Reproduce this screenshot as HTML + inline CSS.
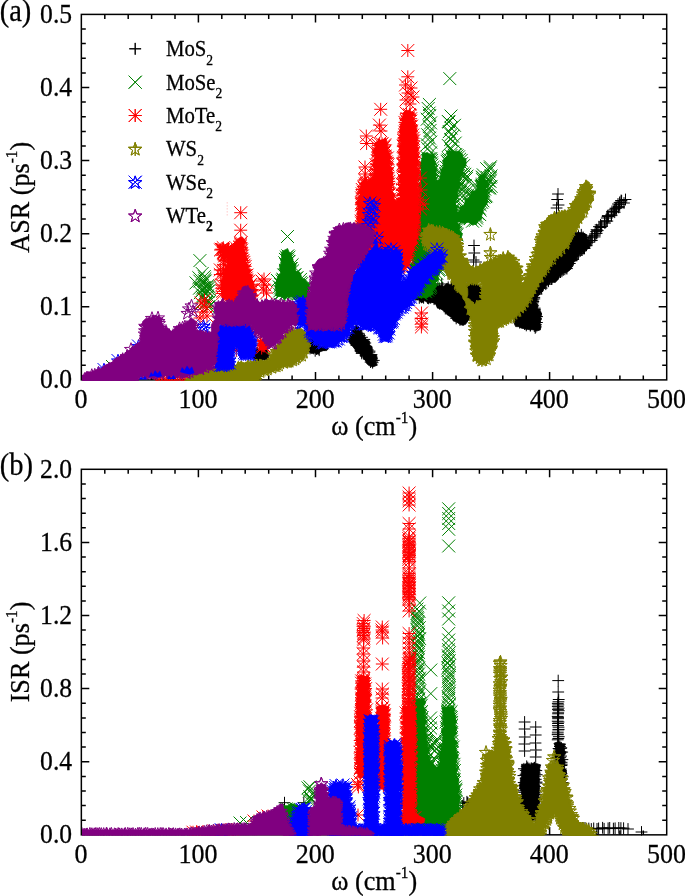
<!DOCTYPE html>
<html lang="en"><head><meta charset="utf-8"><title>ASR and ISR versus phonon frequency</title>
<style>
html,body{margin:0;padding:0;background:#fff}
svg{display:block}
text{font-family:"Liberation Serif",serif;fill:#000;stroke:#000;stroke-width:.3px}
.t{font-size:27.7px}
.l{font-size:22.2px}
.s{font-size:14.5px}
.u{font-size:16.2px}
path.mk,path.mg,path.mr,path.mo,path.mb,path.mp{fill:none;stroke:none}
.mk{marker-start:url(#mk);marker-mid:url(#mk);marker-end:url(#mk)}
.mg{marker-start:url(#mg);marker-mid:url(#mg);marker-end:url(#mg)}
.mr{marker-start:url(#mr);marker-mid:url(#mr);marker-end:url(#mr)}
.mo{marker-start:url(#mo);marker-mid:url(#mo);marker-end:url(#mo)}
.mb{marker-start:url(#mb);marker-mid:url(#mb);marker-end:url(#mb)}
.mp{marker-start:url(#mp);marker-mid:url(#mp);marker-end:url(#mp)}
</style></head><body>
<svg width="685" height="896" viewBox="0 0 685 896">
<defs>
<marker id="mk" markerUnits="userSpaceOnUse" markerWidth="20" markerHeight="20" viewBox="-10 -10 20 20" refX="0" refY="0" orient="0" overflow="visible"><path d="M-5.9 0H5.9M0 -5.9V5.9" fill="none" stroke="#000000" stroke-width="1"/></marker>
<marker id="mg" markerUnits="userSpaceOnUse" markerWidth="20" markerHeight="20" viewBox="-10 -10 20 20" refX="0" refY="0" orient="0" overflow="visible"><path d="M-6.45 -6.45L6.45 6.45M-6.45 6.45L6.45 -6.45" fill="none" stroke="#008000" stroke-width="1"/></marker>
<marker id="mr" markerUnits="userSpaceOnUse" markerWidth="20" markerHeight="20" viewBox="-10 -10 20 20" refX="0" refY="0" orient="0" overflow="visible"><path d="M-6.45 0H6.45M0 -6.45V6.45M-6.45 -6.45L6.45 6.45M-6.45 6.45L6.45 -6.45" fill="none" stroke="#ff0000" stroke-width="1"/></marker>
<marker id="mo" markerUnits="userSpaceOnUse" markerWidth="20" markerHeight="20" viewBox="-10 -10 20 20" refX="0" refY="0" orient="0" overflow="visible"><path d="M0.00 -6.30L1.62 -1.63L6.56 -1.53L2.62 1.45L4.06 6.18L0.00 3.36L-4.06 6.18L-2.62 1.45L-6.56 -1.53L-1.62 -1.63ZM0 -6.4V7M-6.5 -1.5H6.5" fill="none" stroke="#808000" stroke-width="1"/></marker>
<marker id="mb" markerUnits="userSpaceOnUse" markerWidth="20" markerHeight="20" viewBox="-10 -10 20 20" refX="0" refY="0" orient="0" overflow="visible"><path d="M0.00 -6.30L1.62 -1.63L6.56 -1.53L2.62 1.45L4.06 6.18L0.00 3.36L-4.06 6.18L-2.62 1.45L-6.56 -1.53L-1.62 -1.63ZM-6.45 -6.45L6.45 6.45M-6.45 6.45L6.45 -6.45" fill="none" stroke="#0000ff" stroke-width="1"/></marker>
<marker id="mp" markerUnits="userSpaceOnUse" markerWidth="20" markerHeight="20" viewBox="-10 -10 20 20" refX="0" refY="0" orient="0" overflow="visible"><path d="M0.00 -6.30L1.62 -1.63L6.56 -1.53L2.62 1.45L4.06 6.18L0.00 3.36L-4.06 6.18L-2.62 1.45L-6.56 -1.53L-1.62 -1.63Z" fill="none" stroke="#800080" stroke-width="1"/></marker>
<clipPath id="ca"><rect x="82.1" y="13.6" width="585.4" height="367.1"/></clipPath>
<clipPath id="cb"><rect x="82.1" y="468.2" width="585.4" height="367.4"/></clipPath>
</defs>
<rect width="685" height="896" fill="#fff"/>
<rect x="81.35" y="14.4" width="585.35" height="365.5" fill="none" stroke="#000" stroke-width="1.5"/>
<path d="M104.8 379.9v-4.5M104.8 14.4v4.5M128.2 379.9v-4.5M128.2 14.4v4.5M151.6 379.9v-4.5M151.6 14.4v4.5M175 379.9v-4.5M175 14.4v4.5M198.4 379.9v-8M198.4 14.4v8M221.8 379.9v-4.5M221.8 14.4v4.5M245.2 379.9v-4.5M245.2 14.4v4.5M268.7 379.9v-4.5M268.7 14.4v4.5M292.1 379.9v-4.5M292.1 14.4v4.5M315.5 379.9v-8M315.5 14.4v8M338.9 379.9v-4.5M338.9 14.4v4.5M362.3 379.9v-4.5M362.3 14.4v4.5M385.7 379.9v-4.5M385.7 14.4v4.5M409.1 379.9v-4.5M409.1 14.4v4.5M432.6 379.9v-8M432.6 14.4v8M456 379.9v-4.5M456 14.4v4.5M479.4 379.9v-4.5M479.4 14.4v4.5M502.8 379.9v-4.5M502.8 14.4v4.5M526.2 379.9v-4.5M526.2 14.4v4.5M549.6 379.9v-8M549.6 14.4v8M573 379.9v-4.5M573 14.4v4.5M596.5 379.9v-4.5M596.5 14.4v4.5M619.9 379.9v-4.5M619.9 14.4v4.5M643.3 379.9v-4.5M643.3 14.4v4.5M81.3 365.3h4.5M666.7 365.3h-4.5M81.3 350.7h4.5M666.7 350.7h-4.5M81.3 336h4.5M666.7 336h-4.5M81.3 321.4h4.5M666.7 321.4h-4.5M81.3 306.8h8M666.7 306.8h-8M81.3 292.2h4.5M666.7 292.2h-4.5M81.3 277.6h4.5M666.7 277.6h-4.5M81.3 262.9h4.5M666.7 262.9h-4.5M81.3 248.3h4.5M666.7 248.3h-4.5M81.3 233.7h8M666.7 233.7h-8M81.3 219.1h4.5M666.7 219.1h-4.5M81.3 204.5h4.5M666.7 204.5h-4.5M81.3 189.8h4.5M666.7 189.8h-4.5M81.3 175.2h4.5M666.7 175.2h-4.5M81.3 160.6h8M666.7 160.6h-8M81.3 146h4.5M666.7 146h-4.5M81.3 131.4h4.5M666.7 131.4h-4.5M81.3 116.7h4.5M666.7 116.7h-4.5M81.3 102.1h4.5M666.7 102.1h-4.5M81.3 87.5h8M666.7 87.5h-8M81.3 72.9h4.5M666.7 72.9h-4.5M81.3 58.3h4.5M666.7 58.3h-4.5M81.3 43.6h4.5M666.7 43.6h-4.5M81.3 29h4.5M666.7 29h-4.5" stroke="#000" stroke-width="1.5" fill="none"/>
<g clip-path="url(#ca)"><path fill="#000000" stroke="#000000" stroke-width="0.8" stroke-linejoin="miter" fill-rule="evenodd" d="M252.4 352.4L251.9 355.6L254.6 358.8L257.6 360.9L260.9 359.8L264.5 359.7L268.7 359.5L268.2 354.4L266.8 349.3L263.5 350.3L260.4 348.8L256.3 349.2Z"/>
<path class="mk" d="M256.8 353.5L264.4 355.2L261.7 352.7L259.4 352.7L264.1 353.7L257.3 352.9L262.1 356.1L256.5 357.6L261.6 356.3L258.8 357.9"/>
<path fill="#000000" stroke="#000000" stroke-width="0.8" stroke-linejoin="miter" fill-rule="evenodd" d="M300.7 342.5L303.7 344.9L301.8 348.6L305.2 351.6L308.4 351L311.1 353.4L314.3 352.8L318 354.1L320.6 351.5L323.6 350.6L326.7 350.6L328.4 348.5L326.8 345.4L323.7 346.6L320.6 346.3L317.5 346.3L315.4 345.6L313.7 343.5L312.9 340.5L311 338.4L307.7 338.9L304 338.5Z"/>
<path class="mk" d="M313.8 347.4L307.6 341.3L306.8 347.5L312.5 347.6L318.8 349L319.2 350.2L310 348.5L310.7 342.3L316.5 349L312.4 344.6L305.4 345.3L317.6 348.2L313.7 348.4L305.1 346.2L307 341L312.1 341.6L315.2 350.8L305 348.3"/>
<path fill="#000000" stroke="#000000" stroke-width="0.8" stroke-linejoin="miter" fill-rule="evenodd" d="M348.7 339.1L349.2 342.4L351.2 344.7L353.2 347L355 349.4L356.1 352.3L359.7 353.5L362.2 355.2L363.2 358.5L365.5 360.6L366.7 363.6L369 365.6L373 366.8L377.4 365.2L375.5 361.9L377.4 358.8L376.5 355L372.5 353.7L372.4 350.4L372.1 347.1L369.6 345L369.7 341.6L366.9 339.6L364.2 337.6L363 334.9L361.6 332.2L360.8 328.9L358.1 326.3L354.1 326.5L352.8 330.4L350.8 332.9L350.3 335.9Z"/>
<path class="mk" d="M371.5 354.6L369.4 352.2L365.6 355.2L365.3 343L351.4 339.7L355.7 342.3L367.9 350L368.8 358.9L362 337.3L369.5 351.1L365.8 346.1L366.9 355.5L354.8 342.2L360 348.2L356.5 330.6L353.6 332.5L355.7 343.3L370.6 362.1L356.4 345.2L372.6 362.7L361.5 351.6L358.6 335.2L361.7 353.4L364.3 339.4L366.4 346.6L360.4 350.9L358.5 333.3L373.8 360.4L363.7 341.1L353.2 335.5L372.2 361.1L359.8 335.7L371.3 358L369.4 358.9L353.4 337.2L355.9 330"/>
<path fill="#000000" stroke="#000000" stroke-width="0.8" stroke-linejoin="miter" fill-rule="evenodd" d="M412.6 298.1L415.8 299.9L418.8 300L421.5 302.7L424.8 300.7L427.6 302.7L430.6 302.8L433.7 302.4L436 304.5L437.3 307.9L440.3 308.8L443 310.2L445.2 312.3L446.9 314.5L449.4 316.2L452.5 317.3L453.2 321L456.5 321.8L459.4 324L462.4 325.3L465.6 324.3L467.8 320.9L469.7 318.6L472.5 316.9L471.7 312.8L473.9 310.6L475 307.7L479 306.8L480.2 304L482.3 300.3L479.9 297.3L481.5 294.3L482 291.3L481 288.3L479.5 285.5L476.9 285.2L473.9 283.4L470.9 283.1L467.9 285.5L464.9 284.5L461.9 285L458.9 283.1L455.9 283.1L452.9 285.2L449.9 284.4L446.9 283.4L443.9 286.2L440.9 285.4L437.9 286L434.9 283.8L432 286.3L428.1 285.7L427 289.5L423.8 290.1L421 291.6L419 293.9L417.3 296.6Z"/>
<path class="mk" d="M419.3 297.9L451.1 311.9L477.5 297.9L447.5 308.3L473.5 304.4L477.1 301.6L467.1 287.7L475.7 290.7L444 306.4L464.1 317.8L423.6 297.8L470.7 309.2L437.9 288.9L466 288.7L456.2 318.4L471.5 287.4L460 320L436.7 300L463.5 287L423 296.9L459.3 287L462 318.7L451.5 287.7L442.7 304.4L477.3 292.5L473.6 306.8L477.9 295.1L428.6 298.4L454.6 287.8L430.8 290L452 288.3L439.6 289L437.7 302.4L470 310.4L468.7 314.4L439.3 289.9L430.4 297.7L445.3 308.6L476.4 288.1L476 296.9L467 316.3L448.2 287.3L421.4 297.2L427.7 291.5L463.3 319.7L444.5 305.8L457.9 317.2L476.3 303.6L469.4 311.3L434.3 288.2L451.6 311.8L421 296.4L473.1 288.6L456.2 316.6L468.9 288.6L446.3 289.8L431.7 288.3L434.1 299.2L427.7 291.2L427.6 298L425.3 293.4L452.6 313.9L456.6 288.7L442.7 287.9L460.9 288.8L439.5 303.7"/>
<path class="mk" d="M441.7 284L474 245.5L474.3 253L473.6 260L476 262L558 194L557.2 199.5L558.5 205L556.6 208"/>
<path fill="#000000" stroke="#000000" stroke-width="0.8" stroke-linejoin="miter" fill-rule="evenodd" d="M514.9 312.4L513.6 315.7L513 318.9L513.6 321.9L515.6 326.6L518.9 326.7L521.7 328.3L524.7 328.7L527.7 329.5L530.7 329.6L534 329.9L536.8 331L540.5 329.8L540.6 326.3L540.2 323.2L540.7 320.2L540.8 317.1L541.7 314L540.2 310.4L536.9 308.5L538.1 304.6L535.7 302.3L533.1 299.9L530.2 301L526.8 299.4L523.8 300L519.8 301L518.3 304.1L516.7 306.8L516.4 310.2Z"/>
<path class="mk" d="M520 311.1L537 316.6L526.8 303.3L536.9 322.5L535.8 319.2L526.2 324L534.7 309.5L532.9 302.8L520.7 321.7L534.7 308.2L524.6 324.1L521.7 304.8L536.5 316.5L519.7 307.5L525.4 304.7L535.8 326.9L530.6 303.2L535.9 313.8L526.3 325.4L518.2 316.9L518.3 313.1L519.3 321.1L519.7 322.7L536 324.8L530.4 325.4L518.8 312L535.2 327.9L532.1 306.4L534.6 309.9L530.3 325.5L518.1 316.4L523.2 305.1L534.3 326.1"/>
<path fill="#000000" stroke="#000000" stroke-width="0.8" stroke-linejoin="miter" fill-rule="evenodd" d="M518.8 309L520.7 311.4L523.7 313.3L522.7 317.2L525.2 319.3L527.8 321.4L529.1 324.1L528.9 328.4L534.5 327.8L537 326.2L538.3 322.3L539.9 319.4L537.6 316.9L536.3 314.1L537.2 310.7L536.6 307.8L533.6 305.4L534.9 302.7L537.2 300.4L537.1 297L539.5 294.8L540.9 292.1L543 291.4L544.1 287.7L546.2 285.5L549.2 284.5L551.1 281.9L555.3 282.5L557.4 280.1L559.3 277.6L560.7 274.5L563.1 272.7L566.6 272.2L569.3 270.7L571.4 267.9L572.8 265.2L573.2 261.9L576.8 260.5L576.9 257L579.3 255.1L581.3 252.9L583.6 250.9L586.2 249.2L589.1 247.8L590.4 243.8L589.2 241L586.8 238.7L586.3 234.6L583.7 233L580.1 232.6L576.5 232.5L573.6 233.6L571 235.1L569.5 238.8L567 240.6L566.6 244.3L564.5 246.4L562.8 249L559.1 249.8L556.7 251.8L554.8 254.1L553.8 257.3L552.4 260.1L549.8 262L547.5 264L546.1 266.7L544.8 269.6L543.1 272.1L541.5 274.7L539.9 277.3L537.6 279.4L534.4 281L534.8 284.8L531.7 286.5L530.9 289.5L528.8 291.8L528.2 295L525.2 296.7L523.7 299.3L522.1 301.9L520.3 304.4Z"/>
<path class="mk" d="M546.8 272.1L531.9 323.4L532.3 294.3L543.6 275.5L583 248.5L548.5 280.7L563.5 248.9L536.8 288.9L544.6 273.1L530.1 322.4L585.1 243L533.2 305.9L540.3 287.1L573.3 239.4L558.7 258L533.3 301.5L546.8 269.7L567.1 247.6L573.2 259.4L533.3 294.1L534.3 298.9L580.3 250.9L564.8 269.3L539.2 283.3L572.8 239.7L534.1 312.4L533 290.3L560.5 272.1L584.4 248L581.3 234.8L534.3 297.4L572 242.4L542.5 278.3L573.8 256.8L523.9 308.6L567.9 265L533.6 322L578.3 253.7L557.9 273.9L539.2 279.7L536.2 287.2L584 238.9L548.3 281.3L529.4 299.8L581.6 249.4L533.1 300L583.7 240.2L576.1 238.5L537 291.4L573.1 258.1L568.9 242.4L571.3 260.7L525.7 310.3L586.7 242.6L556.7 275L525.5 302.8L574.8 238.8L541.6 288.2L583.1 237.4L552.8 277L547.8 268.9L522.9 305.5L582.3 248.6L567.2 266.4L530.3 319.1L563.1 250.2L544.5 283.1L523.8 306.4L526 312.3L545.8 284.2L576.9 255.3L561.9 271.3L557.7 273.9L551.7 279L554.6 261.8L565.3 248.3L533.4 312.5L536.1 318.8L585.3 245.5L551.8 278.9L562 252.1L534.8 321L533.3 291.2L556.2 258.6L528.4 317.1L534.3 315.4L553.2 263.4L536.4 294.1L541.2 287.1L534.9 318.8L569.8 263.5L540.6 279.2L556.2 260.2L578.5 236.1L534.3 293.7L566.9 268.6L567.7 245L537.8 284.4L534.7 288.5L543.4 275.7L530.5 323.4L526.7 302.7L531.4 296.7L560.4 253.5L558.3 255.4L550.2 265.7L531.9 309L527.5 316L529 300.5L525.6 314.4L549.9 265.6L532.2 307.3L563.3 269.9L531.1 303.9"/>
<path class="mk" d="M583.5 247.6L584.5 248.4L584.1 247.3L584.8 243.7L586.5 245.3L588.3 242.2L590.6 240.6L589.8 240.6L591.8 240.4L592.2 237.8L591.9 236L594.7 236.9L595.1 233.9L594.8 235.2L596.2 231.6L596.6 233.4L596.6 229.7L597.7 230.6L600.6 227.5L598.9 226.7L600.4 226.7L600.6 224.9L601.6 226.3L604.5 221.9L606.2 220.8L604.9 223.1L607.3 221.1L606.8 218L608.4 216.6L607.6 216.6L607.8 215.6L611.5 215.6L611.3 214.3L612 211.4L613.4 211.3L614.7 212.2L614.4 209.8L616.5 208.2L615.4 208.3L618.7 207.4L618.9 206.6L619.6 204.7L619.6 202.4L621.1 200.5L621.2 202.1"/>
<path class="mk" d="M621.6 200.8L624 203L618 204L625.5 199.5L573 240L568 252L567 262L566 268L575 238"/>
<path class="mg" d="M199.9 260.6L287.5 236.5L277.5 280.5L449.8 78.6"/>
<path class="mg" d="M207.8 295.7L199.5 288.2L203.2 295.4L202.4 297.3L206.8 301L202 290.6L204.8 278.8L209.1 306.9L204.3 276.6L205.3 292.5L207.9 291.4L206.5 302.8L204.4 287.8L207.3 287.1L196 282.9L202.2 273.5L202.5 288.1L207.6 285.7L199.8 281.1L208.3 306.8L204.5 280.9L209.4 287.1L198.8 277.7L209 302.1L206.4 289.9L205.1 281.1L206.5 302.5L209.7 289.9L200.3 292.7L201.4 303.6"/>
<path fill="#008000" stroke="#008000" stroke-width="0.8" stroke-linejoin="miter" fill-rule="evenodd" d="M281.4 254.5L281.6 257.5L281 260.5L281.4 263.6L280.4 266.5L279.6 269.5L281.1 272.4L278.7 274.7L277.4 277.4L276.5 280.3L275.9 283.3L275.1 286.7L276 289.6L276.3 292.6L275.5 295.7L278.9 296.4L281.9 296.7L284.9 299.2L287.9 296.8L290.9 296.5L293.9 296.9L296.9 299L300 296.7L303 297.4L306 299.4L310.7 298.7L308.3 293.9L308.9 290.8L309.9 287.7L309 283.7L307 281.4L304.9 279.2L301.7 278L300.9 274.7L299.5 272L295.7 271.1L295.2 268.1L296.2 264.6L293.1 262.4L293 259.3L291.6 256.5L290.8 253.6L288.7 251.3L287.6 248.5L286.1 249.4L282.9 251Z"/>
<path class="mg" d="M287.2 258.5L286 271.7L290.1 294.1L289 261.5L285.4 270.3L300.5 279.4L285.6 272.7L291.3 268.5L298.5 293.9L279.7 294.4L296.8 277.9L283.8 274.9L287.8 255.8L287.7 260.1L305 292.8L302.6 294L282.1 281L301.4 293.8L280.4 284.2L294.1 275.2L304.6 286.8L283.2 280L301.6 283.6L285.8 264.7L292.6 270.8L288.7 293.9L280.5 288L279.3 286.9L300.5 282.3L281.9 292.9L304.2 289.4L293.8 292.3L286.4 293L289 257.1L305.8 287.8L283.1 279.3L296.6 277.9L285.5 293.9L293.9 292.7L286.6 266.2L295 274.8L292.1 264.8L288.7 261.4L286.4 257.1L285.4 259.4L284.8 262.8L279.7 291L290.4 268.6L305.1 292.7"/>
<path fill="#008000" stroke="#008000" stroke-width="0.8" stroke-linejoin="miter" fill-rule="evenodd" d="M437.8 180.7L435.2 180.8L435.4 177.7L436.4 174.7L435.9 171.7L436.7 168.6L434.8 165.7L435.8 162.6L433.9 159.7L434.3 156.7L433.4 154.2L430.4 154.7L427.4 152.4L422.3 154L422.2 157.2L421.6 160.1L420.7 163L420 166L421 169.3L421.4 172.4L419.9 175.3L421.4 178.4L421.2 181.4L418.4 184.3L420 187.4L419.2 190.4L418.2 193.4L420.8 196.5L418.4 199.4L419 202.3L418.6 205.3L419 208.5L417.5 211.2L416.1 214L415.7 217L414.2 219.8L416.1 223.3L415.6 226.2L412.6 228.7L411.4 231.6L411.5 234.6L411.2 237.7L412.5 240.9L412.5 243.9L412.3 247L409.8 250L412.1 253L411.9 256L411.7 259L412.8 262L409.8 265L410.1 268.1L412 271.1L412.6 274.1L411.8 277.1L410.6 280.1L411.5 283.1L412 286.2L409.9 289.2L410.6 292.2L410.4 295.2L414.6 298L417.6 296.9L420.6 297.9L423.7 297.6L426.7 297.9L429.9 296L433.2 294L432.4 290.4L435.2 288.3L436.9 285.8L435.6 281.9L438.9 280.1L438.1 276.4L439.6 273.7L440.8 271L444.2 269.2L444.6 266.1L446.9 263.8L445.7 260L447.2 257.3L449.1 254.9L450.9 252.4L452.5 249.8L452.4 246.4L454.7 244.5L456.3 241.9L459.3 240.5L461 238L462.5 233.5L459.7 231.2L459.3 228.1L459.8 224.9L456.7 222.6L459 222L461.3 221.9L464.1 223.3L467.4 221.8L470.2 223.2L472.9 224.9L476.7 223.8L478.4 221L481.5 219.3L481.5 216.1L482.7 213.3L482.8 210.2L484 207.4L486.4 204.7L487.7 201.8L487.2 198.7L487 195.4L486.3 192.4L485.5 189.5L485.1 186.5L487.6 183.3L485 180.4L484.9 177.4L483.1 175.1L480.9 174.7L478.5 177L479.3 180.6L478.4 183.5L477.2 186.3L477.1 189.4L474.6 190.7L471.6 191.3L470.1 195L468.8 197.9L465.4 199L464.9 202.5L463.7 205.3L460.2 206.7L459.7 209.9L458.4 212.5L456.6 212.1L457 210.4L457 207.4L455.6 204.3L455.6 201.3L456.9 198.3L458.4 195.8L456.9 192.3L457.7 189.4L460 186.9L459.6 183.7L459.3 180.5L460.1 177.6L462 175L462.9 172.1L463.3 169.1L465.3 166.5L466.1 163.6L465.9 159.3L463 157.5L462.5 154.3L460.2 151.7L456.7 151.2L453.7 151.7L450.6 150.8L446.6 150.9L447.3 156L444.4 158.3L442.7 161.1L443.6 164.4L443.4 167.4L440.7 169.9L441.4 173.2L439.9 175.9L439.8 179Z"/>
<path class="mg" d="M458.1 168.7L432.7 181.4L414.5 249L461.1 214.6L452.4 195.3L476.5 218L431.9 165L452.3 201.6L417 228.7L415 238.9L416.6 286.8L459.6 159.2L415.7 262.1L461.6 163.6L414.4 246.2L414.7 257.1L420.3 292.8L446.5 171.4L461 216.1L432 182.4L416.6 232.3L450.9 155.6L423.1 179L469.6 202.5L481.7 202.4L448.5 166.2L466.5 219.1L427.4 157.8L414.8 240.6L456.6 179.4L427.7 290.1L455.4 228.9L444.4 253L419.2 223.9L478.2 213.6L481.7 186.4L423.7 182.1L481.1 198.4L415 280.5L434.1 277.5L456.8 176.8L452.6 211L416.4 274.3L455.5 189L423.9 178.3L421 218.9L451.3 242.1L415.5 278.9L476.7 216.2L445.4 254.6L455 221.5L414.3 290.8L422.2 207.7L453.8 238.7L438.4 270.2L424.4 185L432.9 167.5L448.4 162.7L479.7 214.6L455.7 216.9L432.8 170.4L423.8 200.1L436.7 273.3L425.5 291.3L431.5 162.9L450.5 244.8L439.9 267.2L419.8 221.4L479.3 208.1L452.9 193.8L428.4 159.2L459.4 164.7L424.1 187.2L458.6 156.8L443.8 181.3L430.3 287.3L442.6 185.4L435.4 185.5L457.9 171.8L430 158.5L453.4 225.1L416.1 252.6L441.3 263.4L454.3 222.1L469.7 202.9L424.6 169.9L455.8 232.1L457.1 155.8L479.1 191.8L479.5 188.8L473 197.7L441.9 259.3L466 204.9L417.1 232.2L455.5 184.7L432.3 279.6L471.7 201L420.2 222L451.3 206.2L452.7 193L443.1 260.1L455.7 154.6L422.2 201.2L448.9 158.8L422.8 196.2L414.5 266.9L418.7 291.8L440.1 185.9L455.2 182.4L451.2 242.4L414.8 257.4L472.8 198.1L479.2 190.8L415.2 271.6L475.5 220.3L456.5 233.9L415.2 238.1L461.2 160.4L465.6 217.4L426.2 169.6L459.6 214.4L482.8 191.2L419.2 226.7L421.4 208.5L447.6 247.4L455 227.9L423.5 191.4L416 258.6L436.4 276.1L445.3 177L481.4 195.7L430.4 284.2L421 293.6L459.1 215.8L424.8 167L423.6 183.7L421.6 216.5L445.8 174.8L482.3 185.3L423.9 191.5L451.8 196.8L437.1 186.2L425.3 291.7L470.4 218.7L448 160.1L431.8 175.6L453.7 213.9L453 209.4L472.5 221.2L415.6 292.3L481.7 191.9L443 183.4L427.5 160.8L421.1 213.3L447.9 250L481.3 187.1L454.3 155.3L430.6 285.9L458.8 217.3L421.4 213.5L414.9 269.3L480.1 210L469.3 218.3L433 177.1L440.6 264.6L453.1 202.3L424.4 193L424.6 172.2L445.8 250.7L482.1 186.3L431.5 160.4L416.1 282.9L423.6 174.6L463.6 208.6L455.7 215.2L456.9 234.9L463.5 211.7L482.7 184.1L454.1 219.9L416.3 250.5L415.8 263.1L447.1 161.3L457.2 215.8L422 203.9L427.5 164.4L423.6 202.6L455.8 187.4L482.9 200.8L430.7 159L433.4 278.2L414.5 277.8L415.1 243.7L476.2 196.4L480.1 204.7L482.9 196L458 175.7L458.9 167.8L461 216.5L416.2 235.4L464.2 207L433.4 178.6L456.7 179.2L445.7 173.4L434.6 184.5L416.4 287.9L453.3 205.1L430.7 172.7L445.1 178.1L415.9 270.8L443.4 256.8L446.4 167.3L439.2 269.4L454.8 237.7L477 194.8L453 212.3L429.3 288.5"/>
<path class="mg" d="M428.2 108.5L429.1 113.1L429.7 115.6L427.2 119.2L430.6 122.9L429.5 126.7L430.1 130.4L427.7 134.8L429.5 138.1L430.7 142.1L427.2 144.7L427.8 148.6L430.9 152.7"/>
<path class="mg" d="M429.4 104.5L451 116L449 122"/>
<path class="mg" d="M448.3 121.5L454.5 125.3L451.1 128L449.3 131.6L451.1 134.6L452.9 136.3L450.6 139.5L455.2 143.1L448.3 145.5L450.9 148.9L452.6 151.8"/>
<path class="mg" d="M465.7 177.4L460.3 191.9L461.9 174.8L464.8 174.3L465.6 185.7L458.9 187.1L468.2 190.2L466.4 178.6L462 197.2L467 176.1L468 194.8L464.9 190.3L462.9 186.7L463.6 165.6L462.7 176.9L463.1 173.5"/>
<path class="mg" d="M482.7 177.9L490 181.4L485.1 185.3L483.5 190.7L483.9 197.3L486.7 168.7L482.1 185.7L488.9 180.6L490 168.3L485.6 196.6L483.2 174.8L483.1 189.9L482.5 179.6L482.3 186.5L489.9 188L482.3 191L491.1 186.4L490.1 177.6L486.2 195.8L482.4 177.1L488.6 188.1L484.7 189.1L487.2 177.4L485.7 186.3"/>
<path class="mg" d="M490.4 166.8L489 171L491 176"/>
<path class="mr" d="M156.8 381.5L159.1 381.9L162.2 382L164.2 381.6L167.4 381.3L169.4 381.2L172 381.8L174.5 381.8L177.4 381.5L180.1 381.6L182.7 381.6L184.9 381.7L187.4 381.7L190.5 381.8L192.6 381.8L195.8 381.5L197.7 381.5L200.9 381.1L202.5 381.5"/>
<path fill="#ff0000" stroke="#ff0000" stroke-width="0.8" stroke-linejoin="miter" fill-rule="evenodd" d="M227.6 262.7L227 265.7L224.9 268.1L225.9 271.6L222.7 273.8L224 277.3L221.9 280.3L221.7 283.3L222 286.3L221.8 289.3L223.2 292.3L223.4 295.3L222.2 298.3L225.7 299.4L228.7 301.2L231.7 301.9L234.7 301.8L237.7 300L240.7 299.5L243.7 301.9L246.7 302.3L249.7 299.9L252.7 301.6L255.1 299.4L256.4 296.6L255.7 293.7L256.3 290.5L254 287.8L254.1 284.6L253.6 281.7L250.8 279.4L252.3 275.7L249.5 273.5L250.7 270L248 267.7L247.9 264.6L245.6 262.1L247.8 258.8L245.9 256L246 253L244.1 250.2L243.7 247.2L244.3 244.1L245.3 241L242.4 237L239.3 237.7L236.2 240.3L234.6 242.9L233.5 245.7L234.2 249.1L232.8 251.9L230.6 254L231.3 257.7L227.7 259.3Z"/>
<path class="mr" d="M238.1 249.9L240.7 253.1L241.7 250L226.7 281.2L227 281.5L234.9 296.5L250.5 293.8L228.9 268.9L249.7 285.9L242.3 256L248.5 281.6L252 289.5L245 270L233.8 256.3L226.6 287.7L240.6 245L244.1 265.1L251.7 295.4L245.4 296.1L236.7 254.6L240.1 246.8L226.8 295.6L241.1 242.6L233.6 261.3L239.7 247.5L243.9 262.4L228.7 282.5L249.6 295.3L228.5 294.7L228.5 273.3L227.1 278.8L236.1 251.1L250.6 284.3L228.6 274.7L251.5 290.8L241.8 258.6L234 259.1L241.7 253.5L239.2 297.1L233.8 296L246.4 277.9L236.9 295.7L226.6 288.7L243.9 271.8L230 270.2L236.8 248.5L247 275.1L230 265.7L227.1 291.5L245.9 275.4L229.5 268L230.4 295.5L248.5 295.7L240.6 243.7L241.1 296.1L232.5 261.9L247.4 297.5L245.2 266.4L227.7 296.5L243 260.5L246.5 279.9"/>
<path class="mr" d="M223.3 247.7L227.6 250.8L225.3 252L229 254.6L224.6 251.6L228.4 251.1L224.7 255.9L224.4 251.9L225.1 255.2L226.7 254.4L226.8 252.5L227.7 254.7L221.2 249.2L227.5 252.6L227.1 251.8L224.2 252.8L228.7 248.5L223.3 252.2L222.7 249.6L223.1 249.6L228.6 252.6L225.1 251.2L220.5 250L228.7 255L228.6 249.6L225.4 250.7L224.6 251.9L225.8 250.7L228 249L229.2 252.6"/>
<path class="mr" d="M220.3 269.9L223.2 273.5L223.4 270.3L221.6 288.3L221.7 285L224.8 280.5L222.7 293.5L222.7 291.4L220.3 274.5L223.8 259.9L225.2 260.7L223.6 264.8"/>
<path class="mr" d="M240.7 212.7L240.7 230.2L262 281L265 285L263.5 290L266.5 293L264 279L201 303L206 307L203 312L207 316L200 318L204.5 300L236.3 350.5"/>
<path fill="#ff0000" stroke="#ff0000" stroke-width="0.8" stroke-linejoin="miter" fill-rule="evenodd" d="M259.6 340.5L258.4 343.6L259.2 346.7L259.7 350.3L262.9 349.7L266 349.7L269.3 347.8L269.4 344.7L267.3 341.7L265.9 338.1L262.2 339.6Z"/>
<path class="mr" d="M263.9 345.8L264.4 343.4L260.5 341.3L262.7 345.4L264 345.9L263.5 340.9L261.7 348.1"/>
<path fill="#ff0000" stroke="#ff0000" stroke-width="0.8" stroke-linejoin="miter" fill-rule="evenodd" d="M357.9 200.1L356.7 203.1L357.8 206.1L358.7 209.1L357.3 212.1L358.3 215.1L356.9 218.1L358.1 221.2L358.9 224.2L358 227.2L358.8 230.2L357 233.2L359.3 236.2L357 239.2L359.6 242.2L359.8 245.2L359.6 248.2L358.3 251.2L357.5 254.2L357.7 257.2L359 260.2L358.2 263.2L359.6 266.2L356.9 269.3L359.8 272.7L362.8 271.4L365.8 272.1L368.8 272.2L371.9 273.5L374.9 273.2L377.9 272.6L380.8 270.5L383.8 270.5L386.9 272.4L389.8 270L392.9 272.7L395.8 270.8L398.8 269.5L401.9 271.3L404.8 269.4L406.7 267.7L409.5 265.5L409.7 262.4L410.3 259.4L411.9 256.8L411.4 253.4L414 251.2L413.2 247.7L415.6 245.2L417 242.4L416.1 239.1L418.1 236.5L417.3 233.2L416.9 230.1L417.5 227.1L418 224.1L419.4 221.1L417.9 218.1L419.3 215.1L417.5 212L419.2 209L417.8 206L418.5 203L418.5 200L417.6 197L419.2 194L419.3 191L416.8 188L418.8 185L417.2 182L417.1 179L418.2 175.9L419.2 172.9L419.2 169.9L416.6 167L418.9 163.9L417.6 160.9L417.4 157.9L418.6 154.9L417.3 151.9L418.2 148.8L416.9 145.9L416.9 142.9L417.2 139.8L417.3 136.7L416.3 133.8L416.5 130.7L416.4 127.7L415.7 124.8L413.3 122.1L414.1 118.9L412.4 116.1L414.8 112.8L411 111.6L408 110.2L404.9 111.1L403 113.2L403.1 116.2L401.4 119.1L402.7 122.2L400.5 125L400.6 128L399.6 131L400.4 134.1L400.5 137.1L399.5 140.1L401.4 143.2L398.8 146.2L400.3 149.2L399.1 152.2L400.2 155.2L400.8 158.2L400.5 161.2L398.4 164.2L398.9 167.2L400 170.2L401.2 173.3L398.1 176.2L399.9 179.2L400.1 182.3L400.4 185.3L398.9 188.2L400.3 191.3L399.2 194.3L400.6 197.3L397.7 198.8L397.2 201.6L394.2 199.9L393.1 199.2L394 196.5L393.3 193.5L391.6 190.6L391.6 187.6L393.2 184.5L392.4 181.5L392.9 178.5L392.6 175.5L392.3 172.5L391.8 169.5L389.6 166.6L389.4 163.6L389.9 160.6L390.4 157.4L389.8 154.5L388.4 151.7L387.4 148.8L387.4 145.7L387.2 142.7L386.1 138.3L382.8 139.6L379.8 140.3L377.4 141.1L374.5 143.5L375.7 146.9L373.9 149.5L372.9 152.7L375.3 155.9L374.1 158.8L374.1 161.8L372 164.7L374 167.8L374.1 170.8L373.8 173.8L373.1 176.8L372.5 179.7L369.6 180.4L366.6 180.2L363.5 180.3L361 182.2L360.6 185.1L360.6 188.2L358.5 191L360.3 194.2L358.6 197Z"/>
<path class="mr" d="M410.8 135L398.1 205.1L413.4 147.4L412.6 149L406.4 128.3L404.6 172.5L412.9 238.9L413 183.7L403.2 266L376.3 169.1L373.3 268.9L402.7 198.4L414.8 204.3L383.1 267.5L362.2 193.8L387.5 187.6L379.6 143.3L413.4 176L411.9 145.4L389.2 199.6L377.8 267.3L403.7 140.6L362.8 229.5L390.9 267.2L412.9 154.6L403.9 159.2L375.9 173.3L415.1 191.6L363.3 212.8L386.8 179.1L403.3 171.6L387.3 192.9L388.8 183.9L376.1 164.8L411.1 237.6L395.5 266.5L361.7 252.1L413.2 192.5L364.7 268.2L413.7 140.8L378.5 145.4L414.6 207.4L404.6 200.2L414.2 225.3L405 135.4L404.9 149.5L404.5 162L378.3 164.7L413.8 182.9L404.4 176.2L362.5 258.4L388.6 189.5L362.8 224.9L399.5 266.1L365.4 184.1L405.1 170.4L364.2 188.1L361.9 204.4L389.9 202.6L413.3 234.4L403.4 190.3L404.9 122.4L404.3 146.9L361.8 226.8L414.4 223.8L410.7 121.1L403.4 195.6L404.9 132.1L366.7 267L413.2 138.2L409 250.4L376.2 180L413.1 211.6L397 205.7L362.1 265.8L378.9 150.6L362.9 216.7L409.7 126.7L413.9 212.6L385 156.1L414.7 230.8L412.8 180.5L405.3 154.2L407.1 257.8L373 182.5L377.2 174.8L377.5 169.6L410.2 115.4L411.6 126.1L387.2 167.9L402.9 164.6L414.6 222.4L386.3 161.9L386.8 174.8L402.5 184.5L413.4 162.8L384.5 146.1L363.3 192.2L383.6 147.5L361.5 202.7L386 171L404.6 181.3L414.2 161.9L398.8 265.8L413.2 216.8L387.7 187.4L413.2 178.7L414.4 187.9L410.7 131.1L378.6 160.2L361.6 249.9L387.4 157.9L404.6 185.3L386.6 267.6L375.3 180.8L375.5 175.3L370.6 268.9L403.9 188.3L412 155.1L381.8 266.9L384.8 144.8L410.3 244.1L412 143.2L363.3 253.1L363.5 261.4L403 179L414.2 202.6L377.9 155.2L405.6 124.6L413.3 165.7L378.2 148L403.6 157.3L387.1 163.7L386.7 178.5L388 164.9L362.5 208.3L388.5 266.8L389.2 194L412.8 150.7L363 234.5L403.9 262.6L378.6 156L414.4 206.2L404.1 267.7L384.1 152L411.5 131.2L413.7 216.3L361.2 221.1L370.9 182.8L368.8 183.5L362.5 246L382.1 143.8L363 209.7L409.1 247.1L388.8 181.4L414.3 168.4L361.5 223.1L414.7 194.7L414.4 157.2L376.2 267.8L414.5 170.9L373.2 266.6L402.5 189.2L406.5 129.7L410.5 244.6L392.8 204.5L404.8 152.3L362.7 219.2L361.6 197.9L392.4 203.4L363.3 214.5L403.6 139L389.2 201.9L401.3 203L361.7 204.9L377.4 160.8L396 267.8L412.3 231.9L366.5 183.4L407.2 118.7L388.1 172.8L362.2 267.2L361.7 238.2L414.5 173L388.9 195L414.1 220.7L404.5 260.5L377.5 152.1L413.2 196.4L401 203L409.2 122L362.8 244.3L368.8 268.2L385.4 158.5L410.7 118.7L409.4 114.7L414.3 227.9L406.3 120.5L363.8 246.4L361.5 255.9L407.6 256.4L414.3 200.9L363.9 186.7L391 267.5L404.8 144L362.2 196L362.3 189.5L403.3 146.1L412.7 135.1L362.9 234.7L362.8 261.9L414 164.7L402.3 195.2L405.2 166.5L407.9 254.4L385.2 151L407.1 122.2L407.1 252.9L404.2 137.4L362.1 240.5L361.9 231.7L403.1 163.8L413.5 184.9L412.1 242.2L406.4 113.3"/>
<path class="mr" d="M366.3 136L366.6 143.5L365 167L365.4 174L364.6 180L380.7 109.3L379.4 125.1L381 131L407.8 50.5L407.8 76.8L405.5 85L411 88L408 93L413 97L406 100L410 104L420.5 178L421 190L420 200L420.6 209L423 204L421.5 313L421.2 318.5L421.8 324L421.4 327"/>
<path fill="#808000" stroke="#808000" stroke-width="0.8" stroke-linejoin="miter" fill-rule="evenodd" d="M186.3 380.2L185.9 383.2L187.5 388L190.7 386L193.7 387.2L196.7 386.1L199.7 387.2L202.7 386.8L205.7 387.2L208.7 385.2L211.7 386.4L214.7 385.6L217.7 388L220.7 386.8L223.7 385.6L226.7 386.4L229.7 386.3L232.7 386.9L235.7 386.9L238.7 387.3L241.7 386.7L244.7 387.3L247.7 386L250.7 387.4L253.7 385.8L256.7 386.2L258.7 384.4L258.4 381.4L259.6 378.4L260.5 376L260.8 374.2L264 374.2L266.6 372.5L269.8 372.5L272.5 371.4L275 369.4L277.7 367.9L280.9 368.3L283.4 366L286.4 365.7L289.7 366.4L293.2 365.5L295.1 362.9L297.4 360.9L299.9 359.1L303.6 359.6L304.5 355.7L306.1 353L307.4 350.3L307.7 347.2L309.9 343.8L307.1 341.1L306.6 338.2L307.4 333.8L304.9 332L303 329.7L299.2 327.4L296.4 330.2L293.3 330.3L290.1 329L286.2 331.2L284.7 333.9L283.1 336.4L281.7 339.1L280.8 342L278 343.4L276.6 346.2L274.5 348.3L273.6 351.5L272.2 354.1L269.5 356.3L270.1 359.8L267.3 360.8L265.4 361L262.4 360.4L259.4 360.5L256.5 363.5L253.4 360.9L250.5 363.4L247.3 361.9L244.4 362.8L241.3 361.9L238.4 363.7L235.6 365.2L232.6 365.3L229.6 365.8L226.7 366.7L223.5 366L220.5 366.3L217.4 366.1L214.7 367.7L211.6 367.6L208.8 369.8L205.6 369.7L202.9 371L200.8 374.1L197.6 374.1L194.9 375.3L192.5 377.4L189.5 378.2Z"/>
<path class="mo" d="M255.5 380.1L256.8 365.3L295 358.8L201.6 377.3L303.4 351.4L191.1 382.3L222.7 369.9L224.8 383.5L267.4 366L198.3 381.3L251.8 367.5L278.5 364.7L237.8 383.1L250.3 366.7L218.2 382.8L304.3 338.8L297.6 332.9L239.5 368.4L248.1 366.1L261.3 366L303.1 352.1L206.1 375.7L245.8 381.3L241.2 367.2L254.2 365.2L296.6 356.7L264.9 366.6L286.4 343.5L301.6 336.5L237.9 383.2L256.6 371.2L274.3 354.5L263.6 369.1L304.7 346.3L213.9 382.2L216.4 371.7L276.2 365.6L287 341.8L232.5 383.4L273.5 359.9L265 369.5L214.6 383.2L269.6 366.1L296.1 357L289.1 361L290.3 337.3L255.3 377.7L273 363.6L289.5 337.9L216.4 382L304.4 342.6L226 370.9L274.1 360.3L201.1 383.1L299.1 355L278.7 350.7L266.2 366L203.1 381.7L304.4 347.6L203.8 375.4L284.1 345L226.2 382L250.1 381.6L293.3 333.2L253.3 383.1L255.2 382.9L267.2 368.8L229.2 383.3L211.6 372.8L208.1 383.5L249.2 382.9L245.3 382.6L210.9 383L269.8 364.6L287.2 361.4L194.3 380.2L229.2 370L207.5 375.4L255.8 365.6L231 368.1L193.5 381.8L246.1 368.2L277.2 351.1L233.5 368.3L206.8 382.4L259.9 365.3L283.4 362L214.4 372.8L255.1 374.8L287.7 337.7L282.3 347.2L219.8 372.4L287.6 360.8L254.7 377.3L273.8 365.2L209.3 372.9L225.2 369.8L277.2 352.5L219.8 370.8L296.6 334.2L194.1 380.2L276.2 363.1L195.5 383.2L298.7 335.2L279.8 362.1L260 371.3L303.1 338L301.6 354.9L305.1 343.1L237.6 368.8L271.7 367.1L281.1 347.8L197.4 382.1L192.2 380.5L228.1 382.8L220.1 382L259.6 369.4L242 381.5L275.9 356.4L292.7 359.7L196.9 379.3L291.9 333.7L235.2 383L200.2 379.3L238.3 367.7"/>
<path fill="#808000" stroke="#808000" stroke-width="0.8" stroke-linejoin="miter" fill-rule="evenodd" d="M422.8 236.2L423.2 239.2L424.3 242L424.6 245.1L427 247.5L429.7 249.1L431.5 251.5L432.8 254.3L435.6 255.9L435.3 260L438.3 261.5L439.1 264.7L442.6 265.7L444.4 268.1L445.6 270.8L446.3 274L447.7 276.7L451.3 277.9L452.2 280.9L453.8 283.5L455.9 285.6L456.1 289.1L458.9 290.8L459.8 293.7L462.3 295.8L463 298.8L465 301.2L466 304L465.9 307.4L468.2 309.6L468.1 313.1L469.9 315.5L472.1 317.8L471.2 320.6L471.6 323.6L472 326.6L473.2 329.6L470.6 332.6L473 335.6L470.7 338.6L473.3 341.6L471 344.9L472.9 347.6L473.1 350.6L471.6 353.9L473.8 356.6L473.4 359.8L477.2 361.4L479.9 362.7L483 363L486.3 362.9L488.6 360.8L491.2 359.4L492 356.3L492.9 353.4L493.1 350.4L495.3 347.8L494.9 344.6L497.8 341.7L496.7 338.7L497.9 335.7L496.9 332.7L497.4 329.7L496.8 326.8L498 325L501.6 326.1L503.8 323.4L507.1 323.7L509.7 322L511.6 319L514.4 317.6L516.9 315.9L518.1 312.8L520.4 310.8L524.4 310L525 306.7L526.8 304.3L529.2 302.3L528.6 298.4L531.6 296.7L533.8 294.5L534.8 291.6L535 288.2L538.1 286.6L538.9 283.5L540.4 280.9L541.9 278.3L542.9 275.4L544.6 272.9L546.3 270.4L548.9 268.5L549.5 265.3L551.9 263.3L552.9 260.5L554.9 258.3L556.4 255.5L560.5 255.4L560.8 251.4L562.9 249.3L566.2 248.3L567.5 245.4L568.5 242.4L569.9 239.8L570.4 236.7L573.3 234.6L573.2 231.4L574.7 228.8L577.9 227.2L578.7 224.2L580.4 221.7L583.1 219.8L584.5 217L583.9 213.3L585 210.4L588.3 208.7L588.5 205.5L589.1 202.4L592.7 200.9L593.5 197.9L591.6 194.3L591.7 191.2L590 188.4L590.4 185.3L589.4 182.4L586.9 180.8L585 182.8L582.1 184.8L580.6 187.4L581.6 191.1L578.4 193L578.8 196.4L575.5 198L574 200.6L571.9 202.8L570.7 205.6L571.4 209.5L568.1 210.7L566.7 213.4L563.2 211.1L560.4 212.7L557.6 214L554.9 215.7L550.9 214.2L548.8 217.1L546.8 219.3L544.4 221.1L541.7 222.6L540.9 226.7L541 229.8L539.7 232.6L539.1 235.5L537.4 238.2L536.8 241.1L536.9 244.3L534.9 246.9L534.8 249.9L535.7 253.3L534.7 256.1L533.6 258.9L531.3 261.2L531.6 264.6L529.4 267L527 269.3L527.2 272.5L527.5 275.9L524.5 278.2L524.1 281.2L522.8 284.1L523.1 286.5L522.5 286L519.8 285.5L521.2 282.4L521.8 279.4L521.6 276.4L520.7 273.4L521.9 270.4L519.6 267.5L519.3 264.1L517.3 261.8L514.4 260.1L513.8 256.5L511.4 254.5L508.2 253.9L505.7 254.9L502.6 255.5L499.6 256.2L497.6 258.9L493.9 258.2L492.3 261.8L489.2 262.1L485.8 261.8L483 263.5L480.4 265L478 266.8L476.1 269.5L473.7 269.3L471.6 267.1L469.6 264.8L467.7 262.4L466.8 260.9L464.5 258.5L463.1 255.8L461.9 253.1L462.6 249.8L462.2 246.8L460.8 244L460.6 241L459.5 238.1L457.4 235.4L454.4 234L452.1 231.6L448.5 232.5L446.9 228.7L443.5 228.2L440.1 229.4L437.4 228L434.6 226.7L431.8 225.5L428.6 225.9L426 227.6L423.6 229.9L423.5 233.1ZM464.7 282.9L467 280.5L470.1 282.7L473.2 282.7L476.2 283L479.3 281.5L482 281.7L483.2 284.4L482.4 287.5L481.6 290.6L483.6 293.6L480.6 296.7L482.5 299.7L481.6 301.7L478.4 301.9L476 304.2L472.9 304.7L471.7 301.7L469.9 299.2L466.8 297.8L467.8 294.9L467.8 292.1L467.7 289.1L466.5 286Z"/>
<path class="mo" d="M561.9 216.5L475.1 337.1L517.2 277.1L494.3 263.7L468.9 270.4L565.2 241.5L536.9 276.6L490.5 349.7L435.9 252.7L480.1 357.4L542.8 269.1L486.8 282L529.3 290.2L509.7 258.9L575.8 205.1L540.8 240.8L472.7 271.8L529.8 290.3L519.4 306.8L557.9 218.6L499.8 321.1L586.5 188.4L528.1 291.2L545.1 266.8L589.3 194.3L516.3 309.2L554.5 217.4L486.1 294.1L476.6 324L486.3 281.2L550.6 222.7L569.6 231L547.5 223.8L538.5 256.8L535.8 258.1L520.9 290.9L546.2 263.7L548 260.5L538.8 253.5L513.4 264.9L539.2 249.2L461.1 259.9L547.1 224.1L492.1 342.4L517.9 288.6L444.8 234.8L516.2 272.8L492.9 337.4L429.2 244.8L444.1 261L433.9 247.8L516.9 310.2L473.3 308.5L513.3 261.3L582.9 196.4L449.2 235.5L516.6 268L482.7 305.2L482 277.1L487.9 354.9L542.6 237.8L480.1 269.7L440.1 259.2L533.1 283.8L523.8 301.2L461.1 286.4L477 320.1L439.4 258.4L500.6 260.4L481.7 359.8L489.2 354.6L515.5 271.5L541.8 243.7L584.3 191.1L536.7 262.6L489.9 266.9L461.4 260.8L466 277.4L427.5 243.6L539.3 275.1L428.1 240.2L524.1 298L492.7 323.1L560.6 246L503.2 258L558.3 249.6L499 260.8L570.2 215.5L427.6 234.4L443.1 233.3L493.6 327.5L476.8 306.4L479.9 306.7L587.2 192.8L495.7 262.4L530.4 275.2L580.6 201L486.1 298.6L479.1 272.8L451.9 271.4L453.4 237.4L487.2 295L437.5 256.2L490.8 348.4L544.4 232.6L477.6 349.2L474.8 327.4L451.6 236.6L456.4 240.8L533.2 283.7L484.5 278.8L554.1 251.5L494.6 321.9L542.4 266.9L528.9 278.9L491.2 264.7L517.4 286.4L527 291L482.6 304.2L531.9 287.5L507.5 258.6L456.5 244.2L561 247.8L585.6 189.5L542.5 235.5L574.2 224L585.3 200.9L572.9 225.6L525.3 289.9L459.4 255.9L473.5 314.8L502.7 319.5L544.4 263L447.5 264.3L456.3 250.4L551.6 258.1L454.9 275.6L492 342.1L475.1 341.7L524.4 300.6L486.9 290.8L439.6 231.6L583.2 193.6L518 285L566.9 235.9L484.5 302.6L446.8 234.9L567.4 235.4L578.9 204.8L498 321.4L428.7 229.8L449.3 266L493.3 340.5L579.1 202.9L489.5 351.3L539 276L581.1 211.9L484.3 357.8L504.9 317.5L557.7 250.7L515.8 267.6L564.4 216.2L482.8 359.5L491.2 333L442.4 232.8L462.9 286.5L457.3 245.2L568.6 233.1L493.2 324.7L516.8 288.6L577.7 216.3L515.6 310.5L473.8 312.3L475.6 272.3L451.7 273.1L586 186.2L579.3 213.4L584 191.5L529.8 280.6L450.6 269.2L486.5 302.2L481.6 276.6L545.7 228.5L491.1 330.2L427.3 235.2L436.6 231.9L459.8 284.7L510.4 316.3L477.5 278.4L532.8 265.6L519.5 306L541.8 246.2L456.9 251.6L471.8 273.1L458.4 282.3L476.3 350.6L565 216.1L426.3 240L528.4 286L517 280.3L568 216.3L459.9 255.6L462.3 283.1L583 211.1L431.1 246.1L587.2 197.6L462.9 263.7L507.9 256.8L473.5 278.3L490.1 345.9L565.9 238.8L465.1 279.2L527.9 284.4L477 272.2L564.6 243.1L474.4 312.1L533.1 271.9L475 324.4L510.9 314.5L549.4 258.5L583.9 208.1L541.7 238.5L473.2 278.3L585.6 203.4L491.8 334.9L583.5 207.1L589.2 192.8L476.5 347.5L485.6 287.6L464.2 278.6L431.3 230.5L433.2 231L554.7 218.5L544.7 231.8L534.4 280.9L570.9 229.4L508.2 317.2L462 262.3L485.2 286.3L574.3 211.6L466.8 268L456.4 279.1L475.4 316.5L545.2 226.4L531.9 271.5L539.8 250.9L442 260.5L486.7 267.8L533.3 268.1L477.4 307.3L463.4 267.1L552.8 221.2L475.4 278.7L527.6 287.5L535.8 261.4L504.5 318L472 307.7L517.4 280.8L475.1 331.1L510.6 259.7L530 276.3L483.9 269.6L452.9 273.7L431.7 230.4L476.8 320.5L577 208.5L477.7 346.7L468.8 276.7L578 217.5L575.5 220.7L461.9 279.7L559.4 216.3L426.3 236.7L476.8 354.7L470.8 308.5L458.6 283.4L516.4 274L541.3 271.1L457.1 248L437.8 253.4L581.3 198.3L552.1 254.5L486.4 358.5L534.5 265.8L475.1 342.7L587.5 201.5L571.9 212.8L503.8 260.7L537.4 253.9L528.4 294.3L485.6 297.1L475.8 331L575.5 221.9L489.7 265.7L513 313L574.2 209.2L522.1 304.5L535.2 280.4L477.2 355.4L444.8 264.5L527.2 297.3L460.8 285L572.3 226L476.5 335.4L435.3 248.2L554.4 252.6L454.7 277.3L484.1 268L564.6 241.7L519.8 291.5L476.6 334.3L455.2 240L467.3 268.9"/>
<path class="mo" d="M490.4 234L490.4 252.4L490.8 257"/>
<path class="mb" d="M118 360.5L138.5 346L104 369.5"/>
<path class="mg" d="M112.5 366.5L112.5 366.5"/>
<path fill="#0000ff" stroke="#0000ff" stroke-width="0.8" stroke-linejoin="miter" fill-rule="evenodd" d="M216.3 335.5L215.3 338.5L217 341.6L216.7 344.6L215.1 347.7L214.3 350.7L215.9 353.7L216.2 356.8L214.8 359.8L214.2 362.9L215.7 365.9L217.8 370.3L220.9 368L223.9 368.4L227 369.5L230 369L233.7 366.6L233.8 363.5L233.8 360.5L231.8 357.5L232.9 354.4L232.1 351.4L233.3 348.3L233.3 345.9L236.3 346.5L239 346.6L238.9 348.9L239.4 352L238.2 355L240.7 357.9L243 358.3L246 358.1L249 357.2L252.3 358.4L254.7 354.2L255.1 351.2L253.1 348.1L255.8 345.1L254.4 342.1L253 339L253.3 336L252.5 333L252.6 329.7L251.6 326.8L249.1 324.6L246 322.6L243 323.9L240 322.7L236.9 324L233.9 323.4L230.8 324.2L227.8 324.8L224.8 322.8L222.4 324.8L218.3 326.2L219.5 330.1L215.7 331.7Z"/>
<path class="mb" d="M219 362.3L219.7 337.7L245.2 354.1L249.3 333.2L229.5 363.2L245 327.8L244.2 327.3L236.1 341.3L218.9 356.2L247.1 331.1L227.5 326.3L249.1 351.2L229.5 359.7L223.2 328.7L227.9 352.7L221.8 333.2L233.1 341.6L230.1 345.2L247.2 353.3L249.7 336.6L232.6 326.6L225.9 363.9L250.5 347.1L240.4 343.8L249.7 341L228 362.5L218.7 345.1L235.5 328.8L251.1 344.5L231.4 327.7L229.1 346.9L228 357L249.4 354.4L247.2 333.1L244.3 349.9L222.4 331.1L251 338.7L220.7 341.4L247.5 326.4L230 342.9L220.7 342.2L223.9 328.1L250.5 342L227.9 355.2L223.3 365.1L228.2 353.8L220.7 348.5L219.2 339.6L219.2 354.4L220.5 365.5L242.2 346.6L219 362.1L239.8 326.9L221.9 334.2L243.8 344L241 326.9L220.6 350.5L244.4 352.7L228 350L248.9 349.8L229.5 328.7L236.3 342.6L220.1 352.2L239 342.7L220.2 358.4L242.6 348.7"/>
<path class="mb" d="M203.5 326L204 329"/>
<path fill="#0000ff" stroke="#0000ff" stroke-width="0.8" stroke-linejoin="miter" fill-rule="evenodd" d="M298 299.2L297.8 302.2L297.5 305.3L298.3 308.3L297.7 311.3L296.3 314.4L297.3 317.4L297.2 320.5L297.3 323.5L300.2 325.6L303.3 326.2L307.3 325.8L307.5 321.8L307.7 318.7L305.8 315.7L308.6 312.7L308.8 309.6L306.6 306.6L307.6 303.5L307.5 300.5L304.6 298.5L301.5 297.8Z"/>
<path class="mb" d="M303 301.6L300 303.3L300.6 314.4L304.7 304.8L303.3 311.3L302.6 318.9L304.1 308L303.3 316.1L303.8 317.5L302.5 303.2L301.1 322.8L300.4 319.2L302.1 311.7L304.1 313.1L300.2 307.9L302.2 315.5L303.4 322.1L300.6 309.1L303.1 313L300.7 305.4"/>
<path fill="#0000ff" stroke="#0000ff" stroke-width="0.8" stroke-linejoin="miter" fill-rule="evenodd" d="M306.5 321L307.8 324L306.3 327L307.5 330L307.5 333L308.6 336.3L311.7 337.5L313.4 340.1L314.9 343.8L318.5 343.2L320.5 346L323.9 345.6L326.8 344.7L330.2 346.9L333.1 345.8L336.2 346.4L338.4 342.5L341.1 341.1L344.4 340.5L345.1 336.7L348.2 335L350 332.6L349.3 328.8L351.2 326.4L354.7 324.9L354 321L357.2 320L358.9 322.8L359.7 325.8L362.5 328L365.5 329.5L368.5 327.8L371.6 327.1L374.3 328.6L376.7 331L379.6 330.8L380.5 333.4L379 336.6L381.8 338.5L384.7 341.3L387.7 341.3L391.1 337.9L391.1 334.8L391.5 331.8L390.9 328.5L392.7 326L394.2 323.4L395.9 320.8L397.1 318.1L400.3 316.4L400.1 313.1L402.6 311.3L404.5 308.9L406.8 307L410.4 305.8L410.7 302.3L411.7 299.3L415.5 298.4L415.9 294.9L417 292L420.5 290.9L421.6 287.9L423.3 285.4L424.4 282.5L427.1 280.9L428.1 277.8L431.4 276.6L431.8 272.9L434.3 271.1L437.2 269.7L438.3 266.7L440.3 264.5L442.9 262.8L443.7 259.6L443.7 256.6L443.2 253.6L442.8 251.3L439.8 249.9L437.4 251.9L434.2 252.5L431.6 254L429.7 256.6L426.5 257.2L425.1 260.4L421.3 260.5L419.5 263L417.4 265.3L415.2 267.4L412.3 268.5L409.8 270.2L408.5 273.6L407.9 276.7L406.9 279.5L404.3 281.6L402.7 283.4L401.4 284.2L399.8 282L400.9 279L402.6 276L401.5 273L401.1 270L402.3 267L399.7 264L401.4 261L400.8 258L401.5 254.5L399.5 251L395.7 249.9L392.7 251.7L389.7 252.3L386.7 249.7L383.7 249.8L380.8 250.2L380 250.1L378.1 247.5L377.6 244.6L377 241.6L376.3 238.6L373.9 241.1L374.9 244.8L373 247.2L371.5 249.9L369.4 251.8L367.4 254.1L366.4 257L364.7 259.5L362.2 261.5L360.8 264.2L358.7 266.4L357.5 269.2L355.5 271.5L354.1 274.3L353.8 277.6L351.6 279.8L350 282L347.5 283.7L345.9 286.4L342.3 286.9L341.4 290.5L338.8 292L336.7 294.2L335 296.8L332.1 298.1L330 300.3L326.8 301.2L325 303.6L323.9 306.9L319.8 307L317.8 309.2L315.7 311.4L315.1 315.2L311.8 316L310.7 319.3Z"/>
<path class="mb" d="M374.2 325L410.6 297.4L389 325L414.1 273.4L361.4 321L323.5 310L384.2 329L343.8 331.4L354.6 317.2L388.3 326.3L420.2 281.1L351.2 285.4L363.8 269.8L322.4 342.9L340.4 296.6L409.4 282.7L407.8 299.8L366 264.1L312.6 327.6L331.6 305.2L367.4 323.8L376.4 254.1L395.5 265.3L363.1 268L372.4 324L384.2 334.3L349.9 323.4L312.5 333.4L338.6 297.5L416.1 271.1L374.6 325.3L413.3 290.4L384.9 336.6L390.4 322.4L405.7 302.6L404.7 288.9L379.7 327.2L370.7 256.6L404.5 304.9L370.2 259.7L402.4 289.4L315.3 336.1L370.1 261.1L390.6 254.5L357.3 279.4L330.2 307.1L345.5 329.6L408.8 283L344.1 292.7L396.8 281.4L431.4 268L310.3 329.4L323.6 312.2L348.1 289.1L402.2 287.8L418.8 282.3L415.8 289.7L339.3 298.8L344.7 293.4L427.4 263.1L425.1 277.5L375.7 252.2L317.5 338.5L392.3 320.5L391.8 256L384 255.4L343.3 336.2L437.6 261.6L419.9 268.1L364 323.3L312.9 320.1L388.5 255.8L402.2 307.3L351.8 318.6L374.9 252.4L386.2 335.9L328.4 341.8L310.3 323.4L393.5 318.6L399.8 287.4L397.6 267.2L436 255.8L396.5 258.7L418.1 286.6L357 279.6L412.1 292.7L348.2 327.8L340.5 335.8L313.7 335.7L334.9 340.6L424 265.3L321.4 312.9L358.4 275.5L384 331.3L394 312.6L348.4 288.8L396.1 259.6L318.6 315.1L398.3 309.7L380.3 328.1L323.9 341.6L373.3 256.2L330.2 341.9L413.4 273.2L328.1 308.8L358.3 317.3L437.7 263.5L433.4 268.7L432.2 260.2L399 307.5L389.1 329L386.2 255.1L414.5 274.2L430.2 261.2L381.6 256.7L316.2 319.6L330.1 340.3L396 274.5L335.5 302L331.3 305.2L350.3 286.4L340.7 294.3L396.3 312.2L348.9 321.6L351.4 318.3L409.4 281L402.9 304.4L332.5 302L386.1 334.1L366.8 262.3L396.4 270.1L439 255.2L354 286L318.9 316.6L421.7 269.2L441.1 256L313 320.5L335.1 341.1L396.2 255.5L363.2 324.2L319.4 339.6L427.9 272.7L394.1 313.9L321.3 339.8L396 262.8L326.5 308.6L377.9 256.1L363.2 271L434.6 256.7L428.2 273.7L429.7 263.4L391.9 321.7L441 256.4L388.2 333.1L359 317.8L353.8 282.8L310.5 324.6L365.9 266.3L397.1 277.1L424.2 265.4L422.9 278L423.5 278L436 262.9L366 323.7L410.1 295.5L439.2 258.5L343.2 332.8L381.1 254.7L357.9 277.7L310.5 331.7L405.3 286.5L362 318.9L358.9 273L433.1 258.4L430.4 269.8L396.2 255.4L408.6 299.4L398.1 272.5L398.5 285.1L434.4 266.1L409.6 279.5L411.7 276.6L377.6 325.1L338.4 339.1L340.4 336.2L397.3 284L397 277.5L348.1 324.2L415.7 288.6L417.9 284.8"/>
<path class="mb" d="M370 203L372 209L369 214L373.5 218L370.5 222L374 205L368 225L377 238L391 249L437 249L388 252L394 251.5L391 254"/>
<path fill="#800080" stroke="#800080" stroke-width="0.8" stroke-linejoin="miter" fill-rule="evenodd" d="M216.2 320.6L213.9 320.6L211.7 324.2L211.1 327.1L211.5 330.3L211.3 333.3L209 332.9L206.7 333.1L203.9 331.6L200.8 331.9L197.9 330.9L196.7 330.2L195.3 328L195.2 325L196.6 321.9L192.8 318.7L189.1 319.9L187.6 322.6L185.2 324.1L182.3 324.9L179.6 325.9L176 326.6L174.7 329.4L172.2 331L171 332.3L169.3 329L166.4 328L163.7 327.8L162.9 324.9L161.2 322.3L162.8 318.6L158.5 316.2L155.5 317.4L152.5 316.3L149.8 318.9L145.8 318.4L143.8 320.7L141.4 324.2L143.5 327.4L142.7 330.3L140.4 333.1L140.1 336.1L140.5 339.1L140.5 342.1L138.2 342.5L135.9 344.4L133.6 346.3L131 347.7L129.7 351.1L126.4 351.5L124.6 354.3L121.4 355L119 356.9L116.8 359L113.6 359.7L113 363.8L109.1 363L107 365.4L103.8 365.7L102 368.8L99 369.2L96.1 369.9L93.5 371.5L90.5 371.9L87.2 371.7L85.2 375.1L82.2 375.2L79.3 373.3L76.1 377.8L78.4 380.8L76.4 383.8L79.2 386.7L82.2 386.8L85.2 385.6L88.2 385.5L91.2 388.1L94.2 388L97.2 388L100.2 388.3L103.2 385.6L106.2 387.2L109.2 385.8L112.2 387.6L115.2 387.3L118.2 388L121.2 387.4L124.2 386.2L127.2 387.2L131 386.1L132.4 383.3L134.4 381L137.9 380.2L138 376.1L140.8 376.9L143.8 375.9L146.8 377.1L149.8 376.9L152.8 376.7L155.8 377.2L158.8 377.6L161.8 376.4L164.8 375.4L167.8 377.5L170.8 376.2L173.8 375.2L176.8 376.9L179.8 375.8L182.8 376.3L186.1 376.2L188.7 374.5L191.8 374.5L195.1 374.9L197.6 373L200.8 373.1L203.7 372.2L205.7 368.6L209.1 369.5L211.7 369.4L212.4 365.7L215.6 363.1L216.2 360.1L215 356.9L216 354L216.7 351.1L217.4 348.2L217.1 345L217.2 341.9L217.2 338.9L218.1 335.9L216.8 333.1L219.3 330.6L219 327.5L219.3 324.4L220.8 324.3L222.9 324.1L225.9 323.6L229 322.8L231.8 324.8L235 322.8L237.8 324.9L241 323L244 322.7L247 323.2L250 323.2L253.1 324L252.6 327.7L255.8 329.6L255.4 333L258.8 334.5L261.1 336.9L263.2 337.3L263.9 340.3L264.6 343.3L268.2 344.8L269.5 347.2L272.1 346.2L275 344.9L276 341.6L278.8 340.3L281.7 338.6L282.4 335.3L283.7 332.6L285.4 330.1L287.7 328L289.4 325.6L292.3 324.8L296 325.8L297.8 321.3L297.8 318.3L295.5 315.3L296 312.3L296.6 309.3L296.5 306.3L294.4 303.4L293 300.6L290 302.5L287 302.1L284 302.3L281 301.9L278 300.1L275 301.3L272 300.4L269 300.6L266 300.3L263 301.4L260 302.5L257 300.6L255 300.8L255.1 297.9L253.7 295.2L252.5 292.5L251.4 289.7L248.8 287.6L245.7 285.9L242 287.5L242 291.4L240.2 293.9L237.5 296.1L236.4 298.8L236 300.1L233.8 302.8L230.8 300.6L227.8 302.8L224.8 302.6L221.8 301L218.8 302.2L214.3 302.3L215.5 305.6L213.8 308.6L215.1 311.6L215.7 314.6L214.5 317.6Z"/>
<path class="mp" d="M246.9 293.1L158.5 321.1L197.3 335.7L146.6 337.3L166.7 332.8L284.4 306.4L94.8 374.6L185.9 372L288.6 324.2L91.8 375L100.1 381.3L140.7 372.2L257 305.1L196.3 367.7L231.5 320.4L174.2 372.1L91.1 381.4L209.5 358.4L159.9 372.7L225.6 318.7L226.5 306.2L219.5 318.8L193.1 332.4L244.5 319.4L82.4 381.6L131.4 376.4L206 336.8L231.9 306.1L283.3 327.1L167.6 335.8L113.3 366.3L222.8 304.3L224 317.7L171 372L256 325.8L271 343L278.8 306.5L239.5 318.8L189.1 371.4L202.2 366L134.6 374.8L98.5 372.6L211.1 346.4L158.9 323.2L145.8 326.9L284.2 327L283.1 306.3L164.3 370.8L102.6 373.5L125.4 358.4L128.5 382.1L166.5 371.2L234.5 306.6L255.1 323.2L162.9 331.4L119.9 383.4L190.5 324.7L117.9 364.2L187.9 327.6L98.8 374.9L227.8 306.4L243.8 294.8L182.6 327.5L125 383.7L111.7 383L291.8 319.8L123 361.3L96.3 375.9L169.2 334.9L179.6 328.2L117 365.2L86.7 382.3L149.8 322.5L108.8 383L86.8 377.6L245.5 292.5L144.8 333.6L237.9 319.5L288.6 304.9L177.1 372.3L244 292.7L139.8 349.2L271.6 304.5L134.1 375.9L160.7 330.9L165.6 371L220.8 312.2L201 336.1L192.2 327.1L234.5 319.9L242.3 298.5L113.5 383.6L274.4 304.5L237.8 304.5L211.1 349.1L241.2 301.9L127 356.3L127.1 382.3L228 320.3L292.4 311.2L201 336.1L210.9 362.8L160.2 326.6L145.2 325.9L211.3 352.3L129.5 356.4L81.2 381L267 305.3L107.1 383.7L206.2 364.4L146.3 372L93.8 383.2L211.1 355.6L249.7 295.2L153.6 373.2L170.7 371.9L282.1 331.4L246.1 319.3L288.3 322.9L249.8 321.4L144.2 345.8L276 305.5L190.9 329.3L81.3 380.3L291.8 318.8L106.1 382.1L194.1 368.7L184.9 326.5L165.3 333.9L95 383.6L229.1 305L150.1 373.1L210.6 338.1L198.7 367L218.4 315.5L84.5 378.9L194.7 334.8L255.4 323.3L267.1 335.5L211.9 338.3L144.9 341.5L213 339L140.5 348.4L238.5 304.7L151.5 372.9L122.7 359L203.1 336.8L261.7 331.9L145.1 330.4L123.7 382.2L152.9 321.6L254.4 321.1L132.2 354.8L275.3 338.4L142.5 372L250.6 302.5L278.9 333.4L261.9 305.9L155.1 321.2L287.9 304.8L210.3 360.9L104.4 373L180.2 371.2L107.6 370.2L101.8 382.5L106.2 370.5L178.3 333.8L143.7 371.1L117.2 383.2L111.4 368.3L156.3 372.1L204.9 366.8L251.6 304.9L120.7 360.8L175.3 333.6L199.9 368.6L184.3 371.3L268.5 337.5L281.4 304.6L156.9 372.2L240.9 319.6L145.6 339.6L211 359L276.4 337.1L208.9 337.5L132.6 352.5L187 326.9L178.2 371.2L259.4 330.8L132.1 378.3L236.1 320.2L192.4 369L247.8 291.5L88.4 378.5L265.2 305L179.1 330.8L258 328.5L269.7 339.8L211.1 348.1L262.4 306.7L222.2 305.3L85.4 378.9L272.1 339.1L186.3 372.4L193.5 335.8L249.1 299.6L291.9 322.9L254.4 305.2L257.1 304.7L218.4 306.7L147 330.5L266.2 334.6L263.6 332.7L290.6 306.6L109.2 368.7L258.7 329.1L86 382.5L135.6 372.9L116.1 364.6L286.6 325.6L277.3 336.8L209.3 364.7L146.1 337.2L272.6 342.8L213.3 340.7L240 304L218.8 318.3L172.6 336.3L279.8 332.6L118 382.9L249.9 296.5L292.9 310.2L220.1 308.7L212.8 344.8L191.8 325.6L293.2 316.9L268.5 306.3L149 323.4L99.4 382.2L289.8 306.4L226.2 319.2L138.7 371L220.2 310L144.7 344.9L251.1 319.6L135.8 350.3L160.3 328.1L137.6 351.7L90.7 383.4L153.3 321.6L291.6 312.4L241.2 300.3L175.2 335.9"/>
<path class="mp" d="M189 308.5L193 311L187.5 313L191.5 305.5L152 318L158 317.5L131 349"/>
<path fill="#800080" stroke="#800080" stroke-width="0.8" stroke-linejoin="miter" fill-rule="evenodd" d="M308.7 327.4L311.7 329.4L314.7 329.6L317.8 328.2L320.8 328L323.8 327.7L326.8 329.3L329.8 328.1L332.8 326.8L335.9 329.1L338.9 327.3L341.8 326.7L344.2 325.9L345 322.9L345.1 319.8L344.9 316.8L346 313.8L346.2 310.8L345.9 308.1L346.8 305.2L345.1 301.8L347.4 299.2L346.4 295.9L347.9 293.2L347.5 290L348.2 287L349.4 284.2L350.9 281.5L352.3 278.7L352 275.5L353.4 272.9L353.3 269.8L357 268.5L357 265L359.4 262.9L360.7 260.2L362 257.4L362.3 254.1L364 251.5L367.4 250.2L367.6 246.7L369.3 244.2L371.6 241.9L372.3 238.9L374.3 236.4L372.8 233L371.6 230L369 228.3L366.4 227.3L363.6 226L360.5 225.9L357.6 225.1L354.8 223.4L351.5 224.1L348.5 222.8L345.5 223.2L342.7 226L339.2 225.5L335.5 226.7L334.3 229.8L331.5 231.4L331 235.1L329.2 237.9L328.5 240.8L329.2 244.1L329.5 247.2L326 249.5L327.6 253L326.5 255.8L325 257.3L322.3 258.6L319 258.9L316.8 261.3L314.8 264.4L313.6 267.3L315.1 270.6L312.5 273.2L313.5 276.5L312.8 279.4L312.2 282.4L310.6 285.1L310.1 288.1L310.6 291.3L307.7 293.8L307.5 296.8L306.2 299.9L307.7 303.2L307.6 306.2L309.2 309.2L309.1 312.2L307.4 315.2L307.7 318.2L306.4 321.3L308.5 324.3Z"/>
<path class="mp" d="M331.1 254.9L340.7 311.8L314 295.8L316.2 272.6L343 230.7L365.1 244.8L334.3 237.9L350.8 264.3L364.6 230.1L354.5 261.7L321.2 265.9L323.3 264.5L333.9 246.1L341.8 307.2L337.7 232.4L328.2 259.9L350.4 228.2L312 306.8L363.8 247.2L340.6 320.1L323.1 324.5L342.5 305.5L339.6 317.2L369.3 234.2L346.6 277.4L331.6 323.4L344.3 288.4L311.2 312.7L313.5 323.9L319.2 325.1L316.2 279.4L338 323.2L311.5 316.6L340.7 323.1L343.9 287.1L329.1 324.6L345.9 229.6L318.6 267.1L363.9 230.4L338 325.2L327.3 261.6L334.1 243.4L332.6 250.5L342.1 303.5L360.1 253.3L314.2 288.8L351.1 266.7L368.4 235.7L331.1 248.8L335.3 240L343.8 292.2L369.1 239.7L366.9 231.6L313 303.7L316 283.8L315.6 277.6L361.9 230L357.9 256.8L335.4 234.1L320.1 323.5L314.8 289.9L348.6 271.9L316.8 323.4L342.4 296.3L317.5 275.4L342.5 297.9L315.8 284.8L345.9 280.4L354.6 262L323.7 262.6L343.4 228.7L327.6 324.8L332.7 242.2L347.8 275L335.5 232.9L357.6 256.9L311.8 325L312.7 317.9L311.8 299.8L353.5 229.2L349 228.8L341.7 317.4L345.8 282.4L313.3 319.9L357.7 228.7L361.1 251.3L341.4 314.9L348.5 268.6L318.8 266.2L313 321.9L354 228.5L339.4 229.3L335.2 324.7L341.4 300.1L327.4 323.3L329.1 260L343.8 295L367.3 242.8L341.3 308.9L356.1 260.7L313.5 294.5L348.5 274.5L367 242.1L313.6 291.9L360.4 254.6L345.4 285L319.4 269.1L368.4 232.6L312 304.5L312.3 311.1L360 229.4L362.4 248.8L331.3 257.8L312.3 313.7L315.8 281.4L312.9 299.5L343.9 291.4L330.1 252.8"/>
<path fill="#0000ff" d="M149 377L151 372L153 374.5L155 370L157.5 373.5L160 370.5L162 376L158 377.5L154 376Z"/>
<path fill="#0000ff" d="M180 372L182 367L184.5 370L187 365.5L189.5 369L192 366.5L194.5 373L190 374.5L185 373.5Z"/>
<path fill="#0000ff" d="M139 379.5L141 376.5L143 378.5L145 376L147 379.5Z"/>
<path fill="#0000ff" d="M167 379L169 375.5L171 378L173.5 375L176 379Z"/></g>
<rect x="81.35" y="469.3" width="585.35" height="365.55" fill="none" stroke="#000" stroke-width="1.5"/>
<path d="M104.8 834.9v-4.5M104.8 469.3v4.5M128.2 834.9v-4.5M128.2 469.3v4.5M151.6 834.9v-4.5M151.6 469.3v4.5M175 834.9v-4.5M175 469.3v4.5M198.4 834.9v-8M198.4 469.3v8M221.8 834.9v-4.5M221.8 469.3v4.5M245.2 834.9v-4.5M245.2 469.3v4.5M268.7 834.9v-4.5M268.7 469.3v4.5M292.1 834.9v-4.5M292.1 469.3v4.5M315.5 834.9v-8M315.5 469.3v8M338.9 834.9v-4.5M338.9 469.3v4.5M362.3 834.9v-4.5M362.3 469.3v4.5M385.7 834.9v-4.5M385.7 469.3v4.5M409.1 834.9v-4.5M409.1 469.3v4.5M432.6 834.9v-8M432.6 469.3v8M456 834.9v-4.5M456 469.3v4.5M479.4 834.9v-4.5M479.4 469.3v4.5M502.8 834.9v-4.5M502.8 469.3v4.5M526.2 834.9v-4.5M526.2 469.3v4.5M549.6 834.9v-8M549.6 469.3v8M573 834.9v-4.5M573 469.3v4.5M596.5 834.9v-4.5M596.5 469.3v4.5M619.9 834.9v-4.5M619.9 469.3v4.5M643.3 834.9v-4.5M643.3 469.3v4.5M81.3 820.2h4.5M666.7 820.2h-4.5M81.3 805.6h4.5M666.7 805.6h-4.5M81.3 791h4.5M666.7 791h-4.5M81.3 776.4h4.5M666.7 776.4h-4.5M81.3 761.7h8M666.7 761.7h-8M81.3 747.1h4.5M666.7 747.1h-4.5M81.3 732.5h4.5M666.7 732.5h-4.5M81.3 717.9h4.5M666.7 717.9h-4.5M81.3 703.3h4.5M666.7 703.3h-4.5M81.3 688.6h8M666.7 688.6h-8M81.3 674h4.5M666.7 674h-4.5M81.3 659.4h4.5M666.7 659.4h-4.5M81.3 644.8h4.5M666.7 644.8h-4.5M81.3 630.1h4.5M666.7 630.1h-4.5M81.3 615.5h8M666.7 615.5h-8M81.3 600.9h4.5M666.7 600.9h-4.5M81.3 586.3h4.5M666.7 586.3h-4.5M81.3 571.7h4.5M666.7 571.7h-4.5M81.3 557h4.5M666.7 557h-4.5M81.3 542.4h8M666.7 542.4h-8M81.3 527.8h4.5M666.7 527.8h-4.5M81.3 513.2h4.5M666.7 513.2h-4.5M81.3 498.5h4.5M666.7 498.5h-4.5M81.3 483.9h4.5M666.7 483.9h-4.5" stroke="#000" stroke-width="1.5" fill="none"/>
<g clip-path="url(#cb)"><path class="mk" d="M284.5 802.7L303.8 802.7"/>
<path class="mk" d="M467.8 802.7L466.9 801.8L463.8 803L474.8 805.7L477.7 805.4L462.6 805.7L479.5 803.3L467.7 803.5"/>
<path class="mk" d="M524.6 722L524.6 729L524.8 737L524.4 744L524.6 751L535.7 727L535.7 735L535.5 743L535.9 750L535.7 757"/>
<path fill="#000000" stroke="#000000" stroke-width="0.8" stroke-linejoin="miter" fill-rule="evenodd" d="M521.6 764.2L521.8 767.2L521.6 770.3L521.1 773.4L521.5 776.4L520.4 779.5L520.3 782.5L519.7 785.5L519.7 788.6L521.4 791.6L521.5 794.7L518.9 797.8L521.5 800.8L520.9 803.8L520.7 806.9L519.3 809.9L519 813L520.5 816L519.4 819.1L523.5 820.4L526.6 820.3L529.6 821.6L532.7 820.4L535.8 819.7L539.5 820.5L539.6 816.8L538.4 813.7L538.3 810.6L538.7 807.6L538.4 804.5L540.5 801.5L538.4 798.5L539.1 795.4L539.1 792.4L539.4 789.3L539.8 786.2L538.9 783.2L539.7 780.2L539 777.1L539.2 774.1L539.7 771L539.5 768L540.8 764.9L536.5 763.6L533.4 762.9L530.4 764.7L527.3 763.2L524.2 764.5Z"/>
<path class="mk" d="M523.7 782.6L523.2 809.5L523.4 775.6L524.2 800.2L536.3 770.6L534.9 773.1L532.3 815.5L534.5 767.7L524.9 785.3L534.5 801.1L536.6 807.4L534.4 769.7L525.8 811.8L525.7 770.4L534.9 809.5L536.6 782.1L524.5 813.4L523.5 792.3L524.1 803.5L536.6 794.6L523.4 798.3L525.2 806.1L526.7 766.3L525.4 802.2L530 768.6L536.7 774.7L531.6 768.3L535.8 779.3L525.6 816.2L535 776.2L535 790.2L534.9 797.3L534.4 811.8L523.8 794.9L529.1 816.8L535.2 786.4L525.6 774.3L535.6 794.2L525.8 778.2L534.7 792.3L527.8 767.6L536.2 799.5L535.8 804.1L534.7 814.5L525.7 778.3L531 816.5L523.9 768.8L528.6 816.1L523.7 790.8L525.5 817L536.4 783.1L524.9 788.5L525.5 784.3L535.5 817.3"/>
<path class="mk" d="M558.2 680.6L558.2 692"/>
<path class="mk" d="M558.7 699.5L558.4 701.8L557.8 703.4L558.3 704.9L557.8 706.4L558.6 708.1L557.9 709.4L558.7 710.7L558.2 712.8L558.1 713.8L557.7 716.4L558.1 717.4L558.1 718.7L557.7 721.2L558.5 722L558 723.5L558 725.6L558.5 727.2L558.6 729.4L558.3 729.9L557.8 732.2L557.8 734.1L557.7 734.7L558.8 736.7L558.3 738.5L557.7 739.8"/>
<path fill="#000000" stroke="#000000" stroke-width="0.8" stroke-linejoin="miter" fill-rule="evenodd" d="M553.9 743.3L555.3 746.3L555.6 749.3L555.5 752.4L554.1 755.6L555.2 758.6L556.8 761.6L554.6 764.8L555.4 767.8L556.4 770.8L557.8 773.8L554.9 777.1L557.2 780L556.7 783.1L557.1 786.2L559.5 787.7L562.6 790.1L565.4 786.9L566.3 783.8L564.8 780.8L564.9 777.7L565.8 774.6L566.5 771.5L564.5 768.5L564.7 765.4L565 762.3L564.4 759.3L563.7 756.2L565.9 753.1L564.4 750.1L563.9 747L565.6 743.9L561.5 743.5L558.4 741.6Z"/>
<path class="mk" d="M560.4 786.1L558.9 760.9L559.3 749.1L558 754.7L561.6 762.3L561.4 773.7L561.3 747.8L559.8 752.5L558.6 748.5L559.2 779.1L562.7 782.6L561.1 756.1L562.2 752.1L561.1 772.7L561.2 785.2L561.1 770.7L561.5 765.5L560.2 769.6L560.9 748.4L560.5 780.4L560.9 769L561.7 764.2L561.2 773.8L560.3 782.5L558.2 763.3L559.7 775.2L557.8 757.6L560.6 779.9L558.7 767.3L558.9 751.8L562.7 776.7L560.3 757.7L560.6 776.6L559.8 761.1L559.9 746.5L560.8 752L562.4 759.6"/>
<path class="mk" d="M579.7 828.6L582.7 827.9L585 827.9L588.8 828.5L591.3 829L593.7 828.4L597 828.9L598.6 828.4L602.6 827.8L604.1 828.8L608.1 828.3L609.7 827.9L613.4 828.6L615.1 828.3L618.8 827.9L620.9 828.1L623.6 828.2"/>
<path class="mk" d="M641.5 832L628 829"/>
<path class="mg" d="M448.7 508.8L448.7 513.5L448.7 518.5L448.7 523.5L448.7 529.3L448.7 546L448.7 602.8L448.7 611L448.7 619L448.7 633.5L448.7 640L448.7 646L419.7 603L417 609L430.8 670L430.8 693.6L430.5 718L431 723L430.6 728L431 733L423.4 806.5L428 809L425 801"/>
<path class="mg" d="M419 611.3L417 613.5L417.1 615.5L417.3 617.5L417.7 618.9L417.7 621.7L417.9 623.4L417.4 625.8L419.3 627.7L417.2 629.9L418.3 632.3L418.7 634.3L418 636.1L419.7 638.6L418.2 640L417.8 642.1L417 645L417.4 646.4L417.9 648.4L417 651.1L418.6 652.5L418 654.8L418.8 657L418.2 659.8L417.1 661.7L416.8 663.3L416.7 665.5L418.7 667.8L417.6 669.6L417.3 671.7L418.6 673.9L417.1 676.1L419.6 678.1L418.6 680.1L418.7 682.3L416.7 684.1L418 686.6L418.6 688.5L419.5 691.1L418.1 693.2L418.2 695.2L416.9 697.1L418.9 699L417.4 701.2L419.7 703.7"/>
<path class="mg" d="M448.6 649.7L449.3 652.8L448.3 655.8L448.6 657.4L449.2 660.6L447.9 663L449.5 665.6L448 667.7L447.9 670.6L449.2 673.5L449.4 675.5L448.6 678L448.1 681.1L448.6 684.2L448.6 686.8L448.6 688.6L449.3 691.2L449.4 693.7L448.3 697L448.7 698.8L448.4 702.6L449.3 704.7L448.1 706.7L448.2 710.2"/>
<path fill="#008000" stroke="#008000" stroke-width="0.8" stroke-linejoin="miter" fill-rule="evenodd" d="M413.6 700.2L411.4 703.2L411.3 706.2L413.6 709.3L413.3 712.3L412 715.3L413.1 718.3L411.5 721.3L411.6 724.3L413.2 727.4L412.1 730.4L411.3 733.4L411 736.4L412.8 739.4L412.8 742.4L413 745.5L410.7 748.4L411.2 751.5L410.8 754.5L412.4 757.5L410.8 760.5L411.2 763.5L411.6 766.6L410.4 769.6L411.4 772.6L413.2 775.6L413.1 778.6L410.9 781.7L412 784.7L411.6 787.7L412.6 790.7L412.6 793.7L412.5 796.7L410.6 799.8L411.4 802.8L413.5 805.8L410.5 808.8L412.9 811.8L413.6 814.8L412.8 817.9L411.5 820.9L412.3 823.9L412.2 826.9L415.3 828.3L418.3 829.8L421.3 827.9L424.4 827.4L427.4 829.5L430.4 829L433.4 827.5L436.4 829.7L439.4 829.1L442.5 828.4L445.5 829.4L448.5 827.4L451.5 828.8L454.5 829.3L457.5 827.3L461.3 826.9L460 823.9L460.9 820.9L461.1 817.9L460.5 814.9L459.7 811.9L460 808.8L458.6 805.9L458.9 802.8L459.7 799.8L460.4 796.7L458 793.8L459 790.7L459.7 787.7L457.3 784.8L458.7 781.7L458.7 778.7L456.6 775.8L456.2 772.8L457.6 769.7L455.8 766.8L455.5 763.8L456.5 760.7L457.4 757.6L457.7 754.6L456.4 751.6L456.2 748.6L455.3 745.6L457.2 742.5L454.4 739.6L454.2 736.6L456.9 733.5L455.4 730.5L456.8 727.4L454.4 724.5L456.2 721.4L455.4 718.4L455.3 715.4L453.9 712.5L454.9 709.4L452.7 707L449.6 706.4L446.6 707.4L442.2 707.7L442.5 710.8L442.9 713.8L443.7 716.8L442.9 719.8L442.8 722.8L444.4 725.9L441.9 728.9L441.3 731.9L442.9 734.9L442.9 737.9L442.7 740.8L442.9 743.9L441.6 746.8L441.2 749.8L440.4 752.7L439.6 755.6L439.9 758.7L439.9 761.8L439 764.7L438.2 766.2L436.9 767.2L434.5 765.4L432.7 762.6L430.3 762.3L430 759.9L429.1 756.9L427.5 754.1L429.4 750.8L428.4 747.9L426.5 745.1L426.5 742L426.7 739L426.8 735.9L425.9 733L425.8 730L424.9 727L425.1 724L426.5 720.9L424.9 718L424 715L425.6 711.8L424.6 708.9L423.6 706L425.7 702.8L423.3 698.5L419.7 699.5L416.7 698.6Z"/>
<path class="mg" d="M454.8 823.4L436 771.6L453.5 767.1L416 718.8L452.1 750.5L450.6 739L422.7 733L442.9 825.6L416 791.2L453.2 747.1L422.1 740.6L415.5 738.5L450.6 727.1L425.8 763.4L414.9 781.3L415.7 742.6L448.5 724.8L421.1 712.3L417.3 710.3L452.6 774.9L415.7 723.2L415.8 730.5L455.7 789.1L417.1 724.6L451.3 717.7L417.5 747.3L441.9 770L456.3 816.6L417.5 807.7L453.4 783.6L420.2 715.3L434.9 771.5L427.2 766.3L455.8 801.7L415.8 707.8L447.6 729.1L421.4 719.6L416.7 786.8L416.3 737L428.9 767.2L416.5 766.7L416.4 759.9L416.2 753.7L426.1 759.4L416.4 777.9L446.5 727.6L417 782.9L457.3 822.8L422.1 717.6L445.6 823.4L452.3 752.6L451.1 711.7L421.3 711.7L444.9 753.1L442 824.4L415.7 770L444.3 758.6L430.8 824.2L424.5 752.3L447.6 714.2L455.5 804.2L454.4 770.6L416.1 714.3L416.1 750.7L415.5 786L447.7 712.6L451.2 756L416.1 707.1L452 758L456 790.4L454 779.9L445.5 744.4L433 825.1L452 741.3L450.1 728.7L439.3 770.4L448.3 737.5L448.7 823.3L448.2 732.2L416.7 803.8L419.4 825.3L415.9 819.1L456.2 819.3L417.7 741.8L426.1 760.3L424.6 751.6L438.2 771.1L415 762.4L421.5 824.8L416.2 725.5L452.7 779.5L445.7 750.7L415.1 797.4L450.6 716.7L455.8 813L420.1 706.8L455.3 797.5L431.7 769.9L415.1 801.2L438.3 824.1L449.5 713.8L426.1 755.6L443.4 762.8L415.8 736.2L422.2 740.3L424 747.8L439.6 824.1L454.9 807.5L450.7 735.4L445.7 741.2L446.7 719.4L416.9 745.8L455.8 795.1L450.1 735.2L443.3 764.4L416.1 813.7L451.6 737.7L420.6 722.1L416.1 799.1L453.7 781.3L417.5 824.7L421.6 738.9L448.4 711.1L456.3 816.8L415.8 812.2L416.6 816.3L416.6 774.4L451.5 732.8L447.8 734.7L444.9 752.3L425.9 825.8L457.1 810.5L417.4 804.7L421.3 705.3L421.3 732L446.2 748.5L447.1 745.7L420.8 728.6L422.6 743.8L444.2 755.7L428.5 824.3L451.2 720.1L416.6 824.2L451.6 725.5L416.9 810.3L416.5 760.4L422.7 746.3L451.7 751.4L416 771.9L454.5 791.8L419.6 703.5L415.9 765.3L415.4 822.1L455.3 786.8L451.7 722.4L446.1 721.9L447.7 738.7L444 761.8L416.7 776.3L435.4 824.9L416.1 795.4L443.7 768.4L452.4 773.5L455.5 809.1L415.4 757.6L449.6 824.1L416.1 712.4L447.6 712L419.3 708.1L415.4 733L416.9 789.3L454 764.3L415.9 717.5L451.8 745.8L454.2 800.2L416.7 728L421.8 725.5L426.2 765.9L452.7 769.7L452.2 825L416.1 704.6L423.3 824.1L423.5 754.7L421.1 723.3L452.3 761.4L452.3 760.4L447.3 717.1L448.3 729.8L423.5 734.7L456.2 824.5L415.6 751.4"/>
<path class="mg" d="M427.9 742.9L427.3 752.5L436.7 748.8L430.9 762.3L430.3 747.1L434.9 741.1L438.9 754.7L439.4 752.5L434.7 750.7L434.6 743.7L436.2 740.2L434.9 743.5L435.5 759.5L426.8 741.5"/>
<path class="mg" d="M309.5 791L311.1 799.1L308 787.9L313.9 796L313.9 792.6L310 786.8L311 800.5L309.8 796.8L308.6 800.3"/>
<path fill="#008000" stroke="#008000" stroke-width="0.8" stroke-linejoin="miter" fill-rule="evenodd" d="M282 805.7L282.5 808.8L283.5 811.8L283.7 814.9L283 818L282.6 821L284.2 824.7L287.5 824.3L290.6 823.7L293.7 824.1L296.7 825.1L299.4 823.4L300.8 820.7L300.3 817.7L301.5 814.6L301.9 811.5L301.6 808.5L299.5 805.9L296.5 804.9L293.4 804L290.3 804L287.3 805.7Z"/>
<path class="mg" d="M297 820.5L296.9 819.8L285.7 819.5L293.2 808.8L286.2 808.9L286 821.1L288.1 813.9L294.4 820.8L297.9 811.2L286.7 815.4L298.2 815.7L288.4 809.5L296.2 809.1L290.6 820.8L298 811.2"/>
<path class="mg" d="M240 823L246.5 822.5"/>
<path class="mr" d="M364.1 620.5L363.3 623.6L363 626.3L363.8 628.5L363.2 630.6L364.1 632.5L363.4 635.5L363.8 638L363.7 639.8"/>
<path class="mr" d="M363.5 648L363.3 654L363.8 661L363.4 667L363.6 672"/>
<path fill="#ff0000" stroke="#ff0000" stroke-width="0.8" stroke-linejoin="miter" fill-rule="evenodd" d="M358.4 676.2L359 679.2L358.8 682.3L356.5 685.2L358.6 688.3L357.7 691.3L356.9 694.4L356.9 697.4L357.1 700.4L356.2 703.5L356.3 706.5L357 709.5L356.2 712.6L356.8 715.6L357.7 718.7L356.6 721.7L356 724.7L357 727.8L356.4 730.8L356.3 733.9L358.6 736.9L356.4 739.9L357 743L357.6 746L357.6 749L356.3 752.1L356.2 755.1L356.8 758.1L356.3 761.2L357.3 764.2L357.9 767.2L356.3 770.3L357.5 773.3L358.7 777.5L361.8 777.8L364.8 776.1L367.8 775.9L371 773.7L371.3 770.7L368.6 767.6L369.5 764.6L369.6 761.6L369.6 758.5L370.8 755.5L371.4 752.5L370.2 749.4L368.6 746.4L369.3 743.4L368.3 740.3L371.1 737.3L368.9 734.3L368.6 731.2L368.3 728.2L368.5 725.2L369.2 722.1L368.3 719.1L370.4 716L369.5 713L368.1 710L368.2 707L369.5 703.9L370 700.8L369.4 697.8L370.2 694.8L369.3 691.8L368 688.7L370.3 685.7L368.2 682.7L369.1 679.6L368.4 676.5L365.2 676.3L362.2 675.3Z"/>
<path class="mr" d="M364.7 713.3L361.9 699.1L365.4 732.3L360.5 768.5L362.8 738.2L362.7 714.4L361.5 733.3L366.5 741.9L365.7 722.6L364.9 695.5L363.4 680.5L360.3 752.2L366.4 770L362.1 687.7L366.5 727.6L365.6 688.6L360.4 727.2L363.1 681.8L365.1 721.5L363.9 692.8L364.9 686.1L362.3 729.7L366.4 766.8L361 749.2L365.5 764.6L361.8 744.8L364.4 750.2L362 698.1L361.5 683.2L361.3 711.3L364.9 725.9L365.5 718.7L362.1 706.9L364.9 751.6L363.8 678.5L361 723.3L365.1 702.2L361.3 766.5L364.8 736.1L360.4 759.8L361.9 736.2L364.8 741.8L366.6 738L360.8 757.8L363.4 691.9L365.9 758.3L360.8 713.2L361.9 725.2L362.1 701.3L362.6 754.2L365.5 716.1L361.4 762.8L363.8 696.5L365.6 759.8L364.7 683.9L362.7 688.9L365.4 746.5L366.6 762.1L363.9 771.6L366.5 734.8L366.3 754.2L361.6 694.9L361.7 771.9L360.4 720.7L362.8 707.8L361.9 693.7L364.4 757.8L361.5 742.8L364.6 699.9L361.1 763.9L364.1 711.8L366.2 744.4L363.6 683.4L360.4 773.3L362.6 751.5L366.5 709.8L365.8 769.5L361.7 680.9L366.6 729L362.7 743.6L361.5 703.5L364.9 705.9L363.9 701.6L364.8 707.1L360.2 740.5L362.7 728.2L360.5 716.7"/>
<path class="mr" d="M358.4 787L358 815L357.6 784.6L360 782"/>
<path class="mr" d="M382.3 627L382.3 632L382.6 638L382 630L382.3 664L382.3 689L382.6 694L382 698"/>
<path fill="#ff0000" stroke="#ff0000" stroke-width="0.8" stroke-linejoin="miter" fill-rule="evenodd" d="M379.3 705.6L376.5 708.6L377.1 711.7L378.1 714.7L377.3 717.7L378 720.7L378 723.8L377.2 726.8L376.8 729.8L377.7 732.8L379 735.9L376.8 738.9L378.1 741.9L379 745L378.2 748L377.5 751L379.4 754L378.9 757.1L379.6 760.1L377.4 763.1L377.9 766.1L377.8 769.2L379.1 772.2L378.4 775.2L378.2 778.3L378 781.3L379.3 784.3L378.7 788.5L382.3 789.3L385.3 789.1L388.6 785.6L389.1 782.6L386.3 779.5L387.6 776.5L386.8 773.5L387.9 770.5L387.7 767.4L388.7 764.4L386.5 761.4L388.1 758.3L388.1 755.3L387 752.3L386.6 749.3L386.2 746.2L387.9 743.2L388 740.2L386.8 737.2L388 734.1L388.8 731.1L387.9 728.1L388.4 725L388.6 722L386.9 719L388.3 716L387.4 712.9L388.4 709.9L389 706.9L385.1 705.5L382 705.5Z"/>
<path class="mr" d="M383.5 751.3L384.6 747.2L382.1 708.5L382.1 712.8L383.2 721L381.2 730L382.9 772.8L383.9 715.6L382.8 721.6L383.9 710.4L383.6 722.7L381.5 756L384.1 746.5L384.5 756L383.8 727.5L383.1 756L381.1 735.2L381.6 774.9L381.1 730.4L381.2 753.1L381.6 777.7L381.5 750.2L380.8 725.7L383 768L381.8 744.2L384.2 782.9L381.1 721.2L380.6 782.7L381.4 769.4L380.6 780L382.6 750.4L384 781.9L383.8 736.2L381.6 761.6L383 780.1L383.8 766.5L382.7 773.1L382.2 707.7L382.7 757.1L385.2 759.1L382.8 732L383.9 775.9L384 719.3L382.9 733.9L382.4 765.1L383.1 764.6L382.1 743.3L381.8 725.9L384.2 775.2L385.1 749.3L384.5 714.7L381.5 738L382.7 712L381.2 763.5L382.7 713.9L383.7 764L380.9 739.2L381.9 747.4L383.1 763L383.8 770.1L383.1 725.3L382.9 711.7L384.4 738.7L383.3 742.9L381.2 733.8L383.3 741.4L383.4 785.5L384.3 729.1L381.5 718.2L380.9 774.8"/>
<path class="mr" d="M409.1 493L409.1 497L409.1 501L409.1 505L409.1 523.5L409.1 529L409.1 568L409.1 605L409.1 611L409.1 633.5L409.1 638L409.1 643L409.1 648L409.1 653"/>
<path class="mr" d="M409.3 536.8L408.8 538.7L409.2 541.1L409 542L409.2 544.3L409 545.6L409 547.3L409.4 549.2L409.3 551.1L408.9 552.4L409.2 554.8L409.4 555.7L408.9 557.3L408.9 559.4L409.3 561.7"/>
<path class="mr" d="M409.2 573.6L409 575.3L408.9 577.5L409.1 578.7L408.9 581.3L409.2 582.6L409 584L409.3 585.3L409.2 588.1L409.2 588.8L408.7 591.3L408.8 592.6L409.2 594.6L408.9 596.3L409.4 597.8L409 599.7"/>
<path class="mr" d="M409.8 657.2L409.9 659L409.9 660.1L409.4 661.8L408.4 663.6L409.9 665.3L408.8 667.7L410 669.2L408.8 671L408.3 671.7L408.3 673.8L408.6 676.1L409 677.8L409.1 678.9L408.8 680.3L409 683L409.9 684.7L408.4 685.8L409.7 687.2L408.3 688.9L408.4 691.3L409.5 693.3L408.3 694.6L409.6 695.7L408.3 698.4L409.6 699L408.5 701.4L408.5 702.8L408.5 704.1L409.1 706.4L409.7 707.4L408.8 709.2L409.2 711"/>
<path fill="#ff0000" stroke="#ff0000" stroke-width="0.8" stroke-linejoin="miter" fill-rule="evenodd" d="M402.4 708.2L404.5 711.2L403.4 714.2L403.5 717.3L403.3 720.3L402 723.3L403.5 726.3L404.4 729.4L401.6 732.4L403.9 735.4L402.4 738.4L401.9 741.5L403.3 744.5L403.9 747.5L401.7 750.5L401.8 753.6L402.8 756.6L401.8 759.6L402.8 762.6L404.3 765.7L401.2 768.7L402.5 771.7L401.7 774.7L401.6 777.7L402.9 780.8L404.1 783.8L402.5 786.8L402.8 789.8L403.2 792.9L403.7 795.9L404.1 798.9L402 801.9L401.5 805L403.9 808L402.9 811L403.7 814.1L400.4 815.1L399.9 818.8L397.7 821.8L402.4 824.5L405.5 824.5L408.5 823.7L411.5 823.6L414.5 822.8L417.6 821.9L420.6 823.5L423.9 823L424.8 818.7L421.5 817.1L418.8 815.6L416.4 813.7L415.6 813.7L414.1 810.8L413.8 807.7L414.2 804.7L414.9 801.7L415 798.7L415.7 795.6L415.5 792.6L413.1 789.6L414.4 786.6L415 783.5L414.5 780.5L414.7 777.5L415.3 774.5L414.9 771.4L414.8 768.4L413.3 765.4L413.3 762.4L415.2 759.4L414.7 756.3L415.4 753.3L413.1 750.3L415.7 747.3L414.5 744.2L416 741.2L414.6 738.2L414.6 735.2L416 732.1L415.5 729.1L414.4 726.1L414.5 723.1L415 720L415.8 717L414.9 714L414.8 711L413.8 706L410 707.5L407 706.3Z"/>
<path class="mr" d="M406.7 766.7L405.8 784.4L410.5 809.7L410.3 795.7L407.6 734.9L406.7 743L405.2 817.9L407 718.8L408.3 760.3L405.6 801.9L406.2 780.2L410.6 773.3L411.3 817.4L409.6 728.2L410.4 806.7L410 721.9L407.5 751.7L409.3 763L410.2 713.6L410.6 712.2L405.4 817.7L406.5 790.8L410.7 794.7L411 783.7L410.2 740.4L406.5 788L405.7 784.5L405.9 769.4L410.1 723.5L410.1 786L405.8 803.5L410 803.8L409.6 801.6L410.9 788.8L409.9 792.2L407 790.9L411.2 733.4L407 767.3L407.2 797.2L407.4 737.7L410.2 780.3L405.8 764.2L406.1 747.3L406.1 738.8L408.2 780.8L411 805L409.3 778.1L410 731.8L409.8 730.4L409.3 815.5L410.8 764.7L410.7 719.4L410 724.5L409.9 771.1L411.5 758.1L406 713L410.8 742.7L414.8 817.8L407.9 729.7L410.3 769.7L407.5 721.3L408.9 717.3L409.9 750.4L406.8 799L408 793.8L408.1 808.1L410.3 810.9L409.4 747.4L406.1 810.8L409.9 788.4L408.4 740L406.2 772.1L409.4 737L409.8 815.5L407.5 727.8L407.7 810.8L409.4 766.3L406.5 774L407.4 733.5L410.9 758L408.2 758.2L409.7 754.3L411.4 746.5L411.3 797L411 753.3L408.5 716.2L407 774.9L407.4 820L407.1 816.5L407.2 800.6L411 760.3L411.1 739L409.4 777.3L411.9 819.7L407.2 716.5L406.2 726.8L410.4 819.4L407.1 749.5L406.7 746.9L407.8 711.8L405.8 756.3L407.5 754.1L406.9 812.9L406.3 723"/>
<path class="mr" d="M193 832.2L203 831.7L214 831L224 830.2L232 829.5L254 821L263 817L268 816L196.5 832L228 830"/>
<path class="mo" d="M500.5 661.6L499.8 662.7L500.6 665.1L500 668.2L500.4 669.6L500.2 671.7L500 673.8L501.2 676.7L500.2 678.1L501.2 681.3L499.8 683.4L500.5 685.8L500.3 687.3L499.6 689.7L500 692.3L500 694.5L500.1 696.6L500.7 698.9L500.5 700.4L500 702.5L499.8 704.8L500.1 707.6L499.6 709.4L500.4 711.2L500.7 713.4L500.8 715.6L501 718L499.8 720L499.9 722.2L500.1 725.4L500.2 726.9L500.8 728.7L499.7 731.8L500.1 733.2L499.9 736.1"/>
<path fill="#808000" stroke="#808000" stroke-width="0.8" stroke-linejoin="miter" fill-rule="evenodd" d="M496.7 736.2L494.8 739.2L495.7 742.2L494.9 745.2L494 748.2L494.3 751L493.7 751.7L490.9 751.4L487.8 753.1L484.4 754.9L484.3 758.4L485 761.5L482.4 764.2L484.9 767.6L483.4 770.4L483.1 773.4L481.2 776.2L480.8 779.2L482.1 782.4L480.9 785.2L476.7 786.1L477.3 790L474 791.6L472.1 793.9L471.9 797.3L469 799.1L469.4 802.9L467.8 805.4L464.7 807L462.9 808.6L461.3 811.4L459.5 814L455.7 814.1L454.8 817.7L451.3 818.2L449.5 820.8L446.6 823.8L445.9 826.8L447 829.9L445.8 832.8L447.3 836.1L446.9 839.1L448.7 840.1L451.8 840.8L454.8 840.3L457.8 841.3L460.8 840.9L463.8 840.6L466.8 841.1L469.8 841L472.8 839.7L475.9 839.2L478.9 840L481.9 839.7L484.9 841.4L487.9 842.2L490.9 841.7L493.9 840.8L497 840L500 840.1L503 839.5L506 839.9L509 841.4L512 842.2L515 840.9L518 841.3L521.1 839.6L524.1 839.5L527.1 840.7L530.1 839.9L533.1 840.1L536.1 840.7L540 839.7L538.4 836.4L538.8 833.4L539.1 830.1L536.1 828.6L536.2 824.6L532.7 823.6L531.5 820.8L530.3 817.9L529.1 815.1L526.1 813.5L523.6 811.6L523.9 808.1L520.7 806.3L519.4 803.6L520.8 799.9L518.6 797.4L517.8 794.5L517.2 791.5L516.8 788.5L515.3 785.8L512.2 783.7L511.7 780.7L511 777.8L512.1 774.6L511.7 771.6L512.8 768.5L511.2 765.6L510.4 762.7L508.8 759.8L511.4 756.5L509.1 753.7L510.7 750.4L507.2 747.9L509 744.5L506.9 741.9L506.5 738.9L505.9 734.4L502.2 735.1L499.2 735Z"/>
<path class="mo" d="M509.5 776L463.5 837.6L526.6 819.3L522 813.2L532.3 837.2L532.6 830.5L506.1 758.6L510.4 785.9L498 755.9L534.4 829.3L511 835.9L505 743.7L510.9 835.9L476.1 797.4L517.8 807.1L477.1 837.8L453.2 825.3L479.6 791.1L488.9 756.7L459.7 837.2L492.9 837.9L487.5 837.6L523 814.2L486.1 771.8L474.3 801.8L508.1 780.2L469.8 806.5L509 783.3L453.6 836.4L479.9 836.1L532.6 828.9L515.5 798.9L497.8 837.6L516.8 806.5L480.2 788.5L471.7 805L526.7 837.4L460.1 817.2L504.5 835.9L451.7 829.1L523.7 838.3L458 819L520.9 836L516.9 801.4L482.6 837.8L517.4 836.5L487.3 768.2L522 837.4L535.7 831.3L529.9 823L449.9 834.1L465.9 811.5L456.2 837L469.5 809.8L474.7 836.4L516.5 802.3L536.1 838L465.6 837.2L449.5 830.6L490 836.5L491.7 837.1L503.7 836.2L456.4 820.4L530.6 824.9L504.7 753.6L503.4 739.5L451.7 836.7L491.9 756.1L515.5 796.9L475.2 800.5L506.4 836.1L515.4 836.1L479.5 792.4L507.8 764.4L463.2 814.8L534.5 835.9L507.1 772.9L496.1 755.4L453.7 822.9L506.9 766.2L530.2 836L508.3 779.1L484.5 782L512 786.9L475.8 797.2L499.3 745.6L460.8 816L493.3 757.1L487.4 759.9L483.3 785.2L498.9 743L483.7 782.2L512.4 793.7L472.4 836.3L486.9 764.9L477.4 794.6L512 837.6L507.7 762.8L472.2 802.9L501.4 738.4L486.2 837.6L497.8 748.9L487 776.3L451.2 837L524.7 817.5L488.7 763.9L513.3 796.1L500 836.4L459.1 837L521.3 811.3L456.2 822.9L495.1 837L511.8 787.6L482.9 786.8L487.4 771.6L505.7 748.8L508.9 773.1L486.6 780L507.5 770.5L466.1 837.3L499.7 749L487 760L471.2 837.8L486.8 774.9L505.1 748.1L517.9 809.1L467.4 812.9L503.1 740L504.1 743L524.3 817.3L450.4 826L535.3 834.1L504.4 750.8L500.1 742.3L512.1 790.9L476.3 835.7L497.3 753.4L528 822.7L450.5 832.9L505.4 756.9L507 761.9L498.6 738.1"/>
<path fill="#808000" stroke="#808000" stroke-width="0.8" stroke-linejoin="miter" fill-rule="evenodd" d="M548.3 763.6L547.9 766.6L548 769.7L546.1 772.4L546.8 775.8L545.9 778.7L545.1 781.6L546 784.9L545.5 787.8L542.9 790.5L544.1 793.7L544.8 796.9L543.1 799.7L543.8 802.9L540.7 805.1L539.7 808L539 810.9L537.8 813.7L536.6 816.5L535.9 819.5L535.7 822.6L535.7 825.8L534.6 828.6L531.5 830.8L532.7 834.4L531.4 837.1L531.1 841.5L534.4 842.4L537.5 839.6L541.9 839.7L542.7 836.8L543.7 833.9L543.4 830.5L544 827.5L545.3 824.7L546.8 822.1L548.2 819.4L550.6 817.3L553.2 815.1L554 812.2L554.5 812L554.7 812.6L555.8 815.4L557.5 818L557.7 821.1L559.6 823.7L562.3 825.8L561.6 829.4L563.4 831.9L565.6 834.3L564.1 838.1L567.7 840.1L570.8 840.7L573.8 842.3L576.8 839.5L579.9 839.9L582.9 842.1L585.9 839.3L588.9 840.6L592 840.4L595.2 838.1L595.4 835L592.9 832.3L590.8 830.1L588.9 827.2L586.5 825.4L583 825.5L580.7 823.3L578 821.9L575.2 821.1L575.2 817.9L575.6 814.6L572.9 812.3L571.8 809.5L571.3 806.5L569.2 804L569.8 800.7L568.5 797.9L569.6 794.5L568.1 791.8L567.4 788.8L566.2 786L565.2 783.1L565.7 779.9L563.2 777.4L564.3 773.7L562.5 771.1L560.3 768.7L560.8 765.2L556.7 762.7L553.7 764.2Z"/>
<path class="mo" d="M572 816.3L547.6 789L569.8 810.7L547.3 790.3L535.2 832L552.6 768.5L541.7 817L551.2 776.5L570.5 817.3L563.1 790.3L557.2 766.8L558.8 810.9L563.8 793.3L559.7 810.7L567.2 803.6L588.9 832.9L588.8 830.9L554.2 767.7L574.4 824.1L540 832.4L589.7 836.6L566.6 797.4L583.6 828.8L564.5 827.4L542.4 827.9L546.4 797.7L548.9 810.8L544.3 809.3L546.4 802.8L541.6 813L545.4 821.3L567 832.3L551.7 807.4L585.4 837.3L590.7 833.9L555.8 808.7L559.1 774.8L566.7 829.5L561.7 819.8L535.7 838.6L551.9 766.6L535.1 836.7L574.7 837.2L562.2 786.3L543.5 807.9L561.4 780.5L572.9 817.9L538.2 825.6L557.3 769L569.1 835.8L556.8 770.1L563.4 820.6L547.8 817.2L560.3 818L564.1 822.2L566.2 827.9L566.1 796.7L551.5 773.4L539.1 823L563 823.5L544.5 800.6L546.8 819.2L547.9 814.6L545.7 800L581 836.3L570.6 838.6L538.4 837.7L539 835.4L572.2 838.7L551.3 771.8L582.7 837.5L555.8 809.1L545 823.3L535.9 831.5L581.7 829.3L562.9 784.8L570.9 814.1L540.3 827.8L575 824.7L566 802L546.3 792.6L549.6 786.3L535.9 836.1L564.7 791.2L561.5 777.4L576.8 824.6L569.4 808L577.3 836.8L559.6 815.1L542 812.1L558.5 774.3L550.1 782L578.2 826.7L591.9 837.2L580.4 838.2L550.1 809.2L537.6 826.4L586.5 829.2L542.3 825L548.9 785.6L539.3 819.4L549.9 812.9L567.1 805.7L539.8 832.5L572.3 822.7L550.2 780.1L563.7 789.3L560.5 780.1L549.2 777.5L538.1 828.7L545 806.3L565.4 801.7L541.4 815.7L587.4 836.7L546.7 796.4L568.7 835.1"/>
<path class="mo" d="M554.2 756.5L553 760L486 752L489 756"/>
<path class="mb" d="M221.5 830L221.5 830"/>
<path fill="#0000ff" stroke="#0000ff" stroke-width="0.8" stroke-linejoin="miter" fill-rule="evenodd" d="M292.8 823.3L291 826.3L292.6 829.4L291.5 832.5L290.5 835.6L291.9 838.6L294.6 841.5L297.7 841.8L300.7 839.2L303.8 839.4L306.9 840.9L307.8 837.6L308.3 834.6L309.4 831.5L310 828.4L308.5 825.4L309.8 822.3L308 819.2L308.5 816.1L309.7 813.1L307.9 810L307.3 806.9L306 804.6L302.9 806.2L299.3 806L296.8 808.3L296.8 811.6L295.2 814.3L295.6 817.8L293.1 820.1Z"/>
<path class="mb" d="M306.3 817.1L303.3 837.6L296 838L298.3 813.1L298.8 815.9L302.4 809.7L297.6 837.1L305.2 830.1L293.8 826.6L305.3 811.5L304.1 809L304.8 821.8L294.1 824.8L305 831.7L299.5 812.3L302 809.5L294.3 822L303.3 836.2L299.3 836.4L295.5 832.8L294.3 828.2L306.7 836.2L305.1 813.7L296.3 819.7L305.4 820.4L304.6 825.6L294.3 830.5L304.5 827.4L297.9 818.7L304.3 809.1L304.6 816.7L295.9 837.4L304.9 835"/>
<path fill="#0000ff" stroke="#0000ff" stroke-width="0.8" stroke-linejoin="miter" fill-rule="evenodd" d="M329.2 800.1L330.9 803.1L330.6 806.1L329.2 809.1L328.7 812.1L329.3 815.1L329.1 818.1L330.2 821.1L330 824.1L328.3 827.1L330.7 830.1L330.3 833.1L329.6 836.1L330.6 839.1L332.8 839.3L335.8 842.3L338.8 841.5L341.8 840.4L344.8 840.7L347.8 839.6L350.8 840.5L355 838.5L352.5 835.4L354.9 832.4L352.9 829.4L354.4 826.4L352.1 823.4L354.4 820.4L352 817.4L354.9 814.4L354.8 810.8L352.3 808.3L351.8 805.3L349.7 802.9L349 800L348.9 797L349.2 793.9L348 791L348.6 787.9L349.7 784.8L344.6 783.4L341.7 784.2L338.6 783.8L335.7 784.3L332.6 783.7L329.4 787.9L329.3 790.9L331.2 794.2L329.4 797Z"/>
<path class="mb" d="M349.2 832L332.9 810.7L350.1 828.1L348.9 817.1L332.2 805.2L334.4 826.3L344.5 836.2L346.2 804.9L349 806.9L334.3 808.7L334.8 789.4L334.4 833.2L333.8 829.3L349.8 821.1L333.7 809.8L332.9 835.8L347.3 837.6L333.8 802.5L342.9 837.3L350 820.1L333.1 791.3L345.7 799.5L333.5 800.7L348.5 808.8L345.9 799.3L334.2 823.4L333.5 817L333.5 799.2L342.7 787.7L335.7 787.6L344.8 793.3L337.3 837.2L349.6 814.2L345.5 837.6L333.1 813.7L351 817.4L332.4 832.8L351 835.8L345.7 801.2L350.2 833.2L334.3 820.8L349.7 825.4L336 837.4L340.1 787.6L344.9 796.4L332.5 827.2L349.1 810.9L348.4 827.7L344.8 788L343.9 791.9L334.9 796L339.1 788L333 795.3L333.2 819.7L345.8 788.2L340.1 837.4"/>
<path class="mb" d="M336 785.5L343 785L339.5 787.5"/>
<path fill="#0000ff" stroke="#0000ff" stroke-width="0.8" stroke-linejoin="miter" fill-rule="evenodd" d="M366.7 717.2L367.1 720.2L367.2 723.3L364.3 726.3L366.9 729.3L364.6 732.3L364.9 735.4L364.9 738.4L366.3 741.4L365.7 744.4L367.2 747.5L364.7 750.5L366.6 753.5L365.6 756.6L364.1 759.6L366 762.6L364.2 765.6L365.2 768.7L365 771.7L364.7 774.7L364.5 777.8L366.8 780.8L366.7 783.8L364.8 786.8L364.5 789.9L366.4 792.9L364.3 795.9L365.6 798.9L367 802L365.2 805L365.2 808L365.5 811.1L366.5 814.1L367.2 817.1L367.1 820.1L366 823.2L367.3 826.2L365.3 829.2L366.9 832.2L366.4 835.3L365.8 838.3L368.2 840.4L371.3 841.3L374.3 840.1L376.1 838.3L376.2 835.3L376.7 832.2L376.2 829.2L377.2 826.2L375.8 823.1L378.1 820.1L378.2 817.1L375.5 814.1L377.1 811L378.4 808L377.7 805L375.2 802L377.6 798.9L375.3 795.9L376.7 792.9L377.4 789.8L377.2 786.8L376.9 783.8L377.3 780.8L375.5 777.7L375.7 774.7L376 771.7L377.7 768.7L377.2 765.6L377.3 762.6L377.3 759.6L376.3 756.5L377.4 753.5L378.3 750.5L378.1 747.5L376.7 744.4L375.3 741.4L375.4 738.4L375.4 735.3L375.9 732.3L378.3 729.3L375.9 726.3L377.2 723.2L376.7 720.2L377.4 715.5L372.8 715.4L369.7 715.1Z"/>
<path class="mb" d="M370.9 770.6L369.8 772.7L370.5 836.1L373.3 767L371.4 803.6L369.6 801L371 755.3L370.9 726.7L369.7 760L373.3 771.3L370.8 775.4L371.4 807.6L370.9 824.2L370.8 744.7L373 809L369.3 778.9L371.3 731.6L371.4 722.6L371.8 750.2L369.9 815.9L373.6 735.6L372.3 823.1L371.7 779.8L370.1 821.1L372.8 761.9L371.8 816.3L373.7 764.8L372.1 825.5L372.8 772.9L373.7 781.1L370.1 796.2L370.9 814.5L371.9 805.3L372.1 727.9L370.6 740.4L373.2 739.6L372.8 730.6L373.5 784L369.9 752.4L372.6 833.2L373.6 791.9L370.9 740L371.8 759.5L369.8 725L370.3 830.7L372.1 821.3L372.8 756.1L372.6 747.9L370 720.9L372.8 721.6L372.1 733.9L371.9 830.1L371.8 787.4L370.6 826.8L370 822.3L373.7 795.9L370 747L372.9 800.3L370.1 762.5L371.5 777.1L373 798L369.4 833.6L370.8 792.7L371.3 788.5L372.6 736.2L369.7 760.6L370.5 730.9L370.9 768.1L370.1 809.4L373.6 813.4L373.1 726.9L369.2 799L368.8 830.3L369.9 782.6L370.9 723.2L369.7 748.8L372.3 827.6L368.8 786.6L372 755L373.8 752.9L370 781.8L371.9 744.6L370 794.6L373 817.5L371 773.3L372.7 745.8L370.2 817.8L372.1 774.6L370.9 806.9L373.8 788.8L373.2 743L371.2 802.7L370.4 736.2L371.2 785.1L369.8 789.3L370.8 813.3L369.4 745.4L369.2 835.9L372.2 801.5L369.4 734.3L373.3 765.5L370.1 805.3L371.2 814.7L370.1 755.1L370.2 764.4L373 834L371.1 720.9"/>
<path fill="#0000ff" stroke="#0000ff" stroke-width="0.8" stroke-linejoin="miter" fill-rule="evenodd" d="M387.4 742.2L386.1 745.2L385.9 748.3L385.3 751.3L387 754.3L386.3 757.4L385.6 760.4L386 763.4L386 766.4L385.4 769.5L386.9 772.5L385.5 775.5L385.7 778.6L386.2 781.6L388.2 784.6L387.3 787.7L385.7 790.7L387.7 793.7L388 796.8L386.1 799.8L387.6 802.8L387 805.8L386.8 808.9L387.9 811.9L387.1 814.9L387.1 818L388 821L386.5 824L385.3 827.1L385 830.1L387.3 833.1L386.5 836.1L387.8 839.2L390 839.3L393 841.6L396.1 841.8L399.6 840.3L401.6 836.8L401.4 833.7L401.5 830.7L400.7 827.7L400.3 824.6L401.1 821.6L399.5 818.6L399.3 815.6L399 812.5L400 809.5L399.3 806.5L399.2 803.4L399.4 800.4L400.7 797.4L399.9 794.3L399.1 791.3L400.9 788.3L400.6 785.2L401.7 782.2L399.8 779.2L401.3 776.2L400.3 773.1L401.1 770.1L401.3 767.1L398.9 764L400.6 761L398.6 758L399.3 754.9L399.8 751.9L400.2 748.9L399.6 745.9L399.1 742.8L396.7 740.2L393.7 741.3L390.6 740.5Z"/>
<path class="mb" d="M394.5 814.7L389.8 834.2L390.7 748.1L395 761.7L396.6 776.1L391.3 820.7L390.6 773.2L396.3 757.6L390.1 827.1L394.5 803.3L394.9 815.9L389.8 756.6L394.5 763.9L395.5 778.7L390.1 772L394.7 744.8L389.8 799.1L396.3 807L396.5 769.7L393.9 836.4L395.4 746.7L390.4 749.8L390.5 786L391.1 760.1L395.6 819.5L395 749.3L395.7 802.7L391 781.6L391.2 767.5L395.4 780.6L391.2 758.9L394.1 745.1L390.9 779.1L391.2 809.4L391.9 804.2L390.2 822.8L395.4 758.4L389.6 777.6L396.1 809.4L389.9 819.9L395.8 806.8L389.8 794.3L396 827L390.1 806L390.2 746.5L391.2 783.9L395.5 754.9L396.6 828.4L395.3 823.8L396.8 791.4L391 753.3L391.6 790.4L396.8 768L396.2 791.5L390.4 767.3L395.5 752.1L390.1 791.5L396 831.9L395.5 794.8L397 787.3L390 812.5L394.7 835.8L391.6 814.7L395 822.3L391.8 801.3L397.1 782.5L391.4 826.6L390.7 830.6L391.3 806.6L390.1 754.8L389.9 828.7L395 812.8L395.9 800.2L390.7 788.9L392.1 763.7L396.4 767.1L392.3 837.6L396 796.8L395.6 772.1L395 775.7L396.7 752.8L391 795.6L390.6 770L390.7 837.3L390.5 816.3L395.5 788.7L395.8 830.4"/>
<path fill="#0000ff" stroke="#0000ff" stroke-width="0.8" stroke-linejoin="miter" fill-rule="evenodd" d="M342.2 826.2L342.2 847.8L443.3 847.8L443.3 826.2Z"/>
<path class="mb" d="M370.4 844.1L362.5 830.5L434.5 843.8L345.5 835L391.5 829.8L433.9 830.1L409 829.9L386.1 844.5L394.5 843.8L439.4 839.8L387.7 843.8L369.7 829.9L346.1 843.1L390 844.3L349.9 843.9L430.1 843.9L439.9 837.5L377.5 829.7L346.5 842.4L359.5 830.5L383.1 830.2L394 830.1L372.7 844.2L430 829.8L366.4 844L361 830.4L379.3 844.2L436.8 829.5L381.6 844.3L352.6 830.4L427.6 830.4L439.9 842.1L413.9 830.4L422.4 830.2L354.1 829.7L346 837.1L380.6 829.7L353.2 843.6L396.4 830.4L400 830L371.3 830L432.4 843.8L414.7 843.6L408.6 843.8L398 830.4L357 844.1L375.1 844.2L405.9 830L361.7 843.8L418.9 829.6L437.2 843.9L346.4 833.3L417.1 829.6L346.1 831.1L376.5 843.6L427.7 844.2L410.4 843.9L384.9 830.1L406.3 830L416.9 843.8L399.5 843.8L426 830.3L411.5 829.7L421.4 844L403.2 830.3L439.2 844.5L365.2 829.6L386.9 829.6L397.3 843.6L402.8 843.8L392.1 844.1L439.4 830.8L423.5 843.6L384 843.9L426.1 844.2L355.9 830.2L390.5 829.8L363.7 843.9L367.9 830.1L354.7 844.1L347.7 844.2L346.1 839.5L440 834.6L349 830.3L413.1 843.9L358.9 843.6L438.1 830.4L439.1 833.2L431.6 830L420.9 830.1L373.8 829.7L378.6 830.1L369.1 844L405.2 843.9L401.1 844.2L347.7 829.9L418.5 844"/>
<path fill="#800080" stroke="#800080" stroke-width="0.8" stroke-linejoin="miter" fill-rule="evenodd" d="M72.2 830L72.2 847.8L296.3 847.8L293.2 832.4L288.1 823.9L288 823.8L287.9 823.6L287.9 823.4L283.2 805.9L283.1 805.7L283.1 805.5L283.1 805.3L283.1 804L279.7 804L279.7 805.3L279.7 805.5L279.7 805.7L279.6 805.9L279.5 806.1L279.4 806.3L279.3 806.5L279.2 806.7L279.1 806.9L278.9 807L278.7 807.1L278.5 807.2L278.3 807.3L278.1 807.4L277.9 807.5L277.7 807.5L277.5 807.5L273.8 807.5L273.8 809.4L273.8 809.6L273.8 809.8L273.7 810L273.6 810.2L273.5 810.4L273.4 810.6L273.3 810.8L273.2 810.9L273 811.1L272.8 811.2L272.7 811.3L272.5 811.4L272.3 811.5L272.1 811.5L262.5 813.6L253.2 816.2L253.2 822.7L253.2 822.9L253.2 823.1L253.1 823.3L253 823.5L252.9 823.7L252.8 823.9L252.7 824.1L252.6 824.3L252.4 824.4L252.2 824.5L252 824.6L251.8 824.7L251.6 824.8L251.4 824.9L251.2 824.9L251 824.9L235.9 824.9L221.7 825.9L201.3 828L189.2 830L189 830L188.8 830Z"/>
<path class="mp" d="M222.8 843.5L155.2 833.8L279.7 843.9L147.7 843.9L97.1 843.7L234.2 828.8L216.3 830.7L224 830L186.1 834.2L76.8 844.1L95.9 833.7L267.1 844.1L199.4 832.6L76.5 834.7L228 843.5L172.1 834.3L290.3 837.3L254.3 844L166.1 834.2L111.4 833.7L266.1 843.8L137.9 833.6L91.9 834L172.6 844.2L270.3 844.2L283.4 823L117.6 844.1L157.8 833.9L281.8 843.8L170.2 834.3L91.2 844.1L159.1 843.7L207.5 843.8L279 811.1L219.1 829.8L241.9 829L274 843.4L101.3 833.9L131.5 844.1L277.1 811.7L248.5 844.1L115.1 843.5L119.7 834.2L163 843.7L244.1 828.7L145.7 833.6L263.2 817.7L225.6 843.7L101.5 844.1L255.8 843.7L260.1 818.2L179.8 834.1L262 843.9L257.1 819.6L103.7 833.9L217.6 830.6L251.8 844.1L290.9 841.3L81.8 833.7L118.2 833.8L129.7 843.4L141.3 833.7L205.4 843.7L203.2 844L109.9 834.1L228.4 829.2L168.9 833.7L97.9 834L151.9 834.2L239.6 829.2L110.8 844L106.4 833.6L93 843.4L120.5 843.9L178 834.3L193.9 843.6L283.4 821.2L94.2 834.1L123.4 843.9L95.2 843.8L121.8 834.2L271.2 815.9L234.7 843.6L214.9 843.8L139.1 843.7L165.4 843.9L184.5 834.3L89.9 833.7L244.4 843.9L140.8 843.6L80.5 843.8L76.6 840.6L281.5 813.8L187.5 844L124.4 834.3L250.8 829.2L213.4 830.4L139.6 833.7L272.4 843.4L103 843.4L125.7 844.1L194.1 833.4L149.5 844L145.2 844.1L198.5 832.4L245.2 844L109.4 843.6L264.2 843.9L189.4 843.8L114.5 834.1L229.8 829.3L87.3 843.9L181.7 834.4L239.7 843.6L257.1 825.1L259.7 843.6L191.5 843.9L143.3 843.6L200.8 843.5L106.9 833.9L276.3 813.9L125.2 833.7L180 844.1L132.9 843.6L197.5 843.5L226 829.9L162 833.8L129.8 834.1L105.1 843.4L89.4 843.8L176.3 844.1L284.2 825.5L291.5 843.3L185.7 843.8L252.5 829L175.6 834.2L211.4 831.3L160.3 833.8L272.4 815.5L120.1 843.4L171.5 843.7L288.3 843.7L237.7 829L75.8 838.7L206.6 831.1L112.8 844L284.5 844.1L208.6 831.1L204.3 831.8L135.5 834.4L144.1 834.1L266.7 816.7L147.7 833.7L241.6 843.7L290.1 843.9L257.1 823.1L280.8 810.9L196 843.9L75.9 842L237.8 843.5L209.9 844L133 833.8L269 816.5L106.9 843.6L181.7 844.1L248.9 829.1L138 843.8L256.8 821.4L285.3 826.5L115.8 834.3L176.7 844L286 828.8L201.9 832.3L221.6 844.1L79.1 844L99.3 843.8L290.5 839.5L169.5 843.6L87.2 834.2L286.4 843.6L99.5 833.8L222.4 830.1L264.4 817.5L259.1 819L173.3 833.9L199 843.7L255.7 826.5L212.5 843.8L86.2 834.3L153.2 834.4L288.1 831.8L289.8 835L76.3 836.6L281.3 815L277.6 844.2L195.9 833.3L78.2 834.3L131.3 834.2L183.2 844.1L220.2 843.7L157.5 843.7L217.5 843.8L253.3 828.2L257.7 844L191.8 833.3L153.1 844L127.8 833.6L82.7 843.8L287.1 829.8L163.5 834L231.7 829.4L209.5 830.8L190.1 833.6L236.3 829.3L229.5 843.7L246.1 829L212.7 844L274.6 814.8L85.5 843.9L161.1 844L282.1 816.3L250.2 844L127.7 843.7L282.9 819.5L235 843.8L231 843.9L187.5 834.4L275.5 843.5L79.1 834L135.9 843.4L155.2 843.6L84.1 834.4L151.1 843.5L167.5 844L150 834.4L289.2 833.7"/>
<path fill="#800080" stroke="#800080" stroke-width="0.8" stroke-linejoin="miter" fill-rule="evenodd" d="M310.4 847.8L371.7 847.8L371.7 830.9L351.7 828.2L351.7 828.2L342 826.8L341.8 826.7L341.6 826.7L341.4 826.6L341.2 826.5L341 826.4L340.9 826.3L340.7 826.1L340.6 826L340.4 825.8L340.3 825.6L340.3 825.4L340.2 825.2L340.1 825L340.1 824.8L340.1 824.6L340.1 798.7L328.3 798.7L328.1 798.7L327.9 798.7L327.7 798.6L327.5 798.5L327.3 798.4L327.1 798.3L326.9 798.2L326.7 798.1L326.6 797.9L326.5 797.7L326.4 797.5L326.3 797.3L326.2 797.1L326.1 796.9L326.1 796.7L326.1 796.5L326.1 784.7L316.5 784.7L316.5 805.3L316.5 805.5L316.5 805.7L316.4 805.9L316.3 806.1L316.2 806.3L316.1 806.5L316 806.7L315.9 806.9L315.7 807L315.5 807.1L315.3 807.2L315.1 807.3L314.9 807.4L314.7 807.5L314.5 807.5L314.3 807.5L310.4 807.5Z"/>
<path class="mp" d="M320.4 795.6L364.9 844L334.2 843.8L359.2 833.4L336.7 818.7L336.6 804.1L314.5 812.9L336 811.6L348.8 843.9L314.3 836.9L314.2 830.2L349 831.3L336.8 827.1L315 811.6L361.6 843.8L314.4 822.1L360.6 833.1L366.9 833.8L318.5 809.7L354 832.4L313.8 843L336.6 814.9L340.5 830.5L346.6 831.6L350.7 843.7L340.9 843.8L324.6 801.2L329.1 843.9L344.4 844.4L322.6 789.9L332.4 802.6L320.4 793.5L355.7 844.1L335.9 822.1L323.1 843.6L336.3 823.3L368 843.1L338.9 844.3L352.9 832L322 797L335.8 802.6L343 830.9L313.9 835.3L317.4 810.4L353.3 843.9L333.8 802.2L320.5 844.1L338.3 829.2L314.2 824.2L320.5 789.6L320.7 799.4L336.4 806L323.2 798.7L314.5 818.7L343.5 844.3L320.2 802.7L314.4 840.4L326.8 844.4L368 844L336.3 807.7L314 832.7L314 817.2L314.1 814.3L362.6 843.8L344.5 831.3L321.4 788.9L368 835L318.1 843.9L336 809.5L325.6 801.7L362.4 833.8L330.4 844.2L357.2 843.8L315.2 844.3L320.4 791.1L367.6 837.1L317.4 844.3L327.6 802.8L356.2 832.9L367.6 841.3L367.7 838.7L314.2 826L337.2 844.1L320.2 805.5L321.9 790.9L320.4 804.5L313.9 829.3L364.5 834.1L350.4 832.1L358.8 843.7L319.4 807.8L325.6 844.2L336.2 816.5L314.2 819.8L336.6 825.9L320.2 798.3L322.5 794L329.5 802.7L314.1 838.3L332.7 843.8L322.4 794.9L347.2 844L336.6 819.8"/>
<path class="mp" d="M321.3 783.4L321.3 783.4"/></g>
<path class="mk" d="M135.2 48.8L135.2 48.8"/>
<path class="mg" d="M135.2 82.2L135.2 82.2"/>
<path class="mr" d="M135.2 115.5L135.2 115.5"/>
<path class="mo" d="M135.2 148.9L135.2 148.9"/>
<path class="mb" d="M135.2 182.2L135.2 182.2"/>
<path class="mp" d="M135.2 215.6L135.2 215.6"/>
<path d="M227.2 202.5V217.5" stroke="#ff0000" stroke-width="0.7" stroke-dasharray="0.8 2.2" opacity="0.6"/>
<g opacity="0.999">
<text class="t" transform="translate(81 408.4) scale(0.94 1)" text-anchor="middle">0</text>
<text class="t" transform="translate(198.1 408.4) scale(0.94 1)" text-anchor="middle">100</text>
<text class="t" transform="translate(315.2 408.4) scale(0.94 1)" text-anchor="middle">200</text>
<text class="t" transform="translate(432.3 408.4) scale(0.94 1)" text-anchor="middle">300</text>
<text class="t" transform="translate(549.3 408.4) scale(0.94 1)" text-anchor="middle">400</text>
<text class="t" transform="translate(666.4 408.4) scale(0.94 1)" text-anchor="middle">500</text>
<text class="t" transform="translate(72.1 388.4) scale(0.925 1)" text-anchor="end">0.0</text>
<text class="t" transform="translate(72.1 315.3) scale(0.925 1)" text-anchor="end">0.1</text>
<text class="t" transform="translate(72.1 242.2) scale(0.925 1)" text-anchor="end">0.2</text>
<text class="t" transform="translate(72.1 169.1) scale(0.925 1)" text-anchor="end">0.3</text>
<text class="t" transform="translate(72.1 96) scale(0.925 1)" text-anchor="end">0.4</text>
<text class="t" transform="translate(72.1 22.9) scale(0.925 1)" text-anchor="end">0.5</text>
<text class="t" transform="translate(81 863.4) scale(0.94 1)" text-anchor="middle">0</text>
<text class="t" transform="translate(198.1 863.4) scale(0.94 1)" text-anchor="middle">100</text>
<text class="t" transform="translate(315.2 863.4) scale(0.94 1)" text-anchor="middle">200</text>
<text class="t" transform="translate(432.3 863.4) scale(0.94 1)" text-anchor="middle">300</text>
<text class="t" transform="translate(549.3 863.4) scale(0.94 1)" text-anchor="middle">400</text>
<text class="t" transform="translate(666.4 863.4) scale(0.94 1)" text-anchor="middle">500</text>
<text class="t" transform="translate(72.1 843.4) scale(0.925 1)" text-anchor="end">0.0</text>
<text class="t" transform="translate(72.1 770.2) scale(0.925 1)" text-anchor="end">0.4</text>
<text class="t" transform="translate(72.1 697.1) scale(0.925 1)" text-anchor="end">0.8</text>
<text class="t" transform="translate(72.1 624) scale(0.925 1)" text-anchor="end">1.2</text>
<text class="t" transform="translate(72.1 550.9) scale(0.925 1)" text-anchor="end">1.6</text>
<text class="t" transform="translate(72.1 477.8) scale(0.925 1)" text-anchor="end">2.0</text>
<text class="l" transform="translate(166 56.2) scale(0.935 1)">MoS<tspan class="s" dy="8.3">2</tspan></text>
<text class="l" transform="translate(166 89.6) scale(0.935 1)">MoSe<tspan class="s" dy="8.3">2</tspan></text>
<text class="l" transform="translate(166 122.9) scale(0.935 1)">MoTe<tspan class="s" dy="8.3">2</tspan></text>
<text class="l" transform="translate(166 156.3) scale(0.935 1)">WS<tspan class="s" dy="8.3">2</tspan></text>
<text class="l" transform="translate(166 189.6) scale(0.935 1)">WSe<tspan class="s" dy="8.3">2</tspan></text>
<text class="l" transform="translate(166 223) scale(0.935 1)">WTe<tspan class="s" dy="8.3" font-weight="bold">2</tspan></text>
<text transform="translate(-0.3 21) scale(0.89 1)" style="font-size:32px">(a)</text>
<text transform="translate(-0.3 475.3) scale(0.89 1)" style="font-size:32px">(b)</text>
<text class="t" transform="translate(374.2 435.2) scale(0.945 1)" text-anchor="middle">ω (cm<tspan class="u" dy="-12">-1</tspan><tspan dy="12">)</tspan></text>
<text class="t" transform="translate(29 197.2) rotate(-90) scale(0.945 1)" text-anchor="middle">ASR (ps<tspan class="u" dy="-12">-1</tspan><tspan dy="12">)</tspan></text>
<text class="t" transform="translate(374.2 890.3) scale(0.945 1)" text-anchor="middle">ω (cm<tspan class="u" dy="-12">-1</tspan><tspan dy="12">)</tspan></text>
<text class="t" transform="translate(29 652) rotate(-90) scale(0.945 1)" text-anchor="middle">ISR (ps<tspan class="u" dy="-12">-1</tspan><tspan dy="12">)</tspan></text>
</g>
</svg></body></html>
